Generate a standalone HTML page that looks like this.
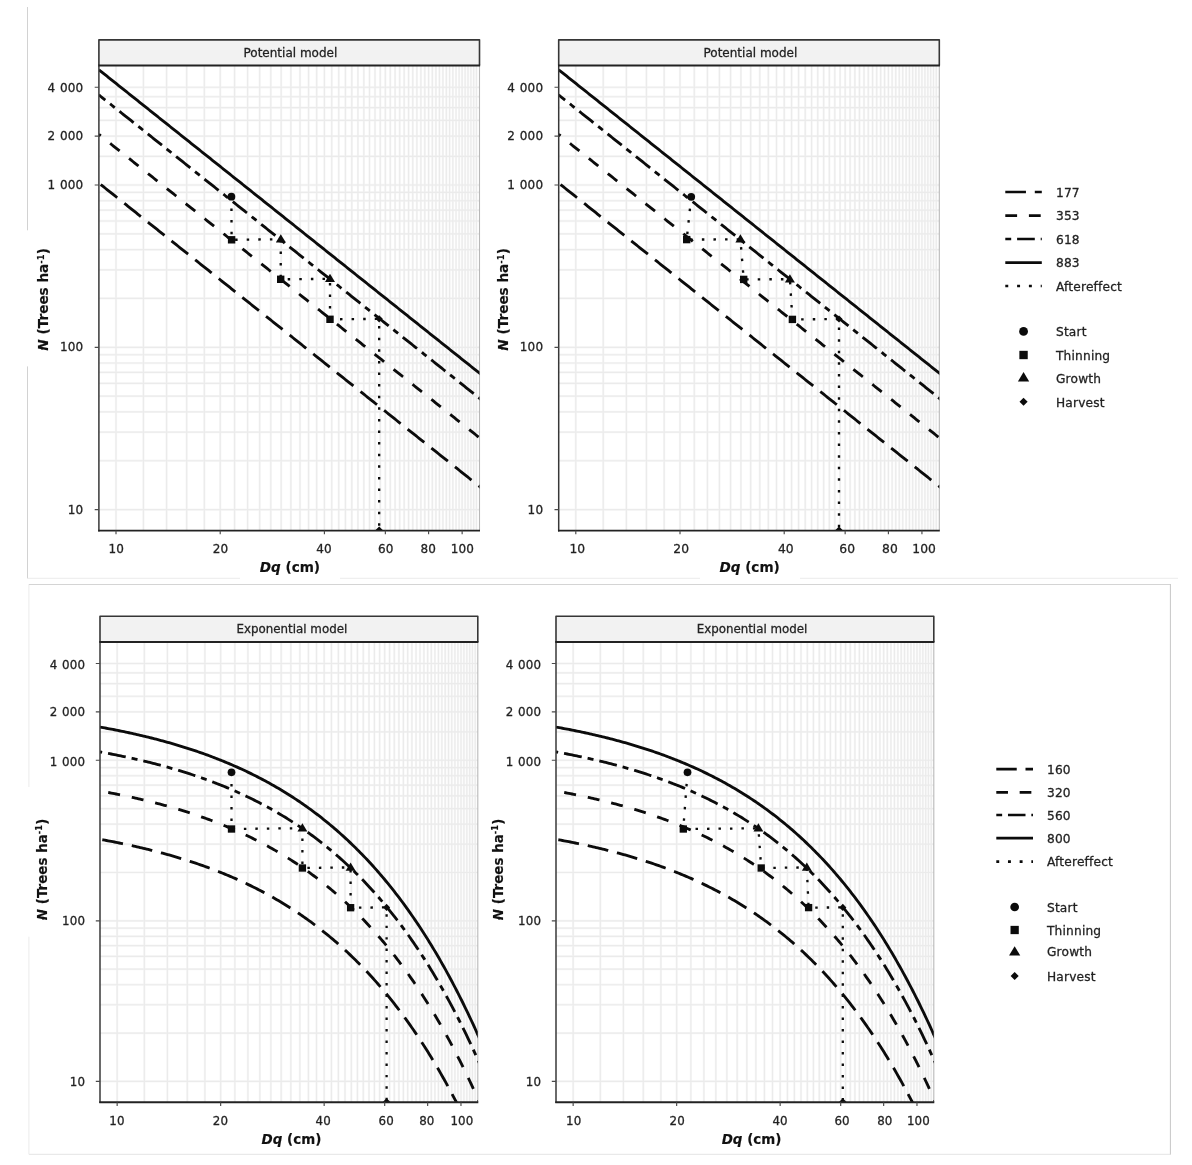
<!DOCTYPE html>
<html lang="en"><head><meta charset="utf-8"><title>Stand density management diagrams</title>
<style>html,body{margin:0;padding:0;background:#fff}svg{display:block}text{stroke:#222;stroke-width:.28px}text.b{stroke:#111;stroke-width:.15px}</style></head>
<body>
<svg width="1192" height="1165" viewBox="0 0 1192 1165" font-family='"DejaVu Sans", "Liberation Sans", sans-serif'>
<rect width="1192" height="1165" fill="#fff"/>
<g stroke-width="1" fill="none">
<path d="M27.5 7V230.3M27.5 366.4V578.4" stroke="#cdcdcd" stroke-width="0.9"/>
<path d="M27.5 578.3H240M340 578.3H700M800 578.3H1178" stroke="#ececec"/>
<path d="M28.9 787V584.4" stroke="#ebebeb"/><path d="M28.9 584.5H1170.9" stroke="#d4d4d4"/><path d="M1170.4 584.2V1154.7" stroke="#c6c6c6"/><path d="M1170.4 1154.3H28.9" stroke="#e4e4e4"/><path d="M28.9 1154.3V936.7" stroke="#ebebeb"/>
</g>
<g id="p1">
<clipPath id="clipp1"><rect x="98.90" y="65.50" width="380.60" height="465.10"/></clipPath>
<rect x="98.90" y="65.50" width="380.60" height="465.10" fill="#fff"/>
<g clip-path="url(#clipp1)" fill="none"><defs><path id="gridp1" d="M116.00 65.50V530.60M143.41 65.50V530.60M166.58 65.50V530.60M186.66 65.50V530.60M204.36 65.50V530.60M220.20 65.50V530.60M234.53 65.50V530.60M247.61 65.50V530.60M259.64 65.50V530.60M270.78 65.50V530.60M281.15 65.50V530.60M290.86 65.50V530.60M299.97 65.50V530.60M308.56 65.50V530.60M316.69 65.50V530.60M324.40 65.50V530.60M331.73 65.50V530.60M338.73 65.50V530.60M345.41 65.50V530.60M351.81 65.50V530.60M357.94 65.50V530.60M363.84 65.50V530.60M369.51 65.50V530.60M374.98 65.50V530.60M380.26 65.50V530.60M385.35 65.50V530.60M390.28 65.50V530.60M395.06 65.50V530.60M399.68 65.50V530.60M404.17 65.50V530.60M408.53 65.50V530.60M412.76 65.50V530.60M416.88 65.50V530.60M420.89 65.50V530.60M424.79 65.50V530.60M428.60 65.50V530.60M432.31 65.50V530.60M435.93 65.50V530.60M439.47 65.50V530.60M442.93 65.50V530.60M446.31 65.50V530.60M449.61 65.50V530.60M452.84 65.50V530.60M456.01 65.50V530.60M459.11 65.50V530.60M462.14 65.50V530.60M465.12 65.50V530.60M468.04 65.50V530.60M470.90 65.50V530.60M473.71 65.50V530.60M476.47 65.50V530.60M98.90 509.60H479.50M98.90 460.74H479.50M98.90 432.16H479.50M98.90 411.89H479.50M98.90 396.16H479.50M98.90 383.31H479.50M98.90 372.44H479.50M98.90 363.03H479.50M98.90 354.73H479.50M98.90 347.30H479.50M98.90 298.44H479.50M98.90 269.86H479.50M98.90 249.59H479.50M98.90 233.86H479.50M98.90 221.01H479.50M98.90 210.14H479.50M98.90 200.73H479.50M98.90 192.43H479.50M98.90 185.00H479.50M98.90 156.42H479.50M98.90 136.14H479.50M98.90 120.41H479.50M98.90 107.56H479.50M98.90 96.70H479.50M98.90 87.29H479.50"/></defs><use href="#gridp1" stroke="#f7f7f7" stroke-width="2.3"/><use href="#gridp1" stroke="#ebebeb" stroke-width="1.15"/></g>
<path d="M479.50 65.50V530.60" stroke="#b8b8b8" stroke-width="1.1"/>
<g clip-path="url(#clipp1)" fill="none" stroke="#0b0b0b">
<polyline points="98.90,69.80 100.52,71.09 102.13,72.38 103.75,73.67 105.37,74.96 106.99,76.24 108.60,77.53 110.22,78.82 111.84,80.11 113.45,81.40 115.07,82.69 116.69,83.98 118.31,85.27 119.92,86.56 121.54,87.84 123.16,89.13 124.78,90.42 126.39,91.71 128.01,93.00 129.63,94.29 131.24,95.58 132.86,96.87 134.48,98.16 136.10,99.44 137.71,100.73 139.33,102.02 140.95,103.31 142.56,104.60 144.18,105.89 145.80,107.18 147.42,108.47 149.03,109.76 150.65,111.04 152.27,112.33 153.88,113.62 155.50,114.91 157.12,116.20 158.74,117.49 160.35,118.78 161.97,120.07 163.59,121.36 165.20,122.65 166.82,123.93 168.44,125.22 170.06,126.51 171.67,127.80 173.29,129.09 174.91,130.38 176.53,131.67 178.14,132.96 179.76,134.25 181.38,135.53 182.99,136.82 184.61,138.11 186.23,139.40 187.85,140.69 189.46,141.98 191.08,143.27 192.70,144.56 194.31,145.85 195.93,147.13 197.55,148.42 199.17,149.71 200.78,151.00 202.40,152.29 204.02,153.58 205.63,154.87 207.25,156.16 208.87,157.45 210.49,158.73 212.10,160.02 213.72,161.31 215.34,162.60 216.96,163.89 218.57,165.18 220.19,166.47 221.81,167.76 223.42,169.05 225.04,170.33 226.66,171.62 228.28,172.91 229.89,174.20 231.51,175.49 233.13,176.78 234.74,178.07 236.36,179.36 237.98,180.65 239.60,181.93 241.21,183.22 242.83,184.51 244.45,185.80 246.06,187.09 247.68,188.38 249.30,189.67 250.92,190.96 252.53,192.25 254.15,193.53 255.77,194.82 257.38,196.11 259.00,197.40 260.62,198.69 262.24,199.98 263.85,201.27 265.47,202.56 267.09,203.85 268.71,205.13 270.32,206.42 271.94,207.71 273.56,209.00 275.17,210.29 276.79,211.58 278.41,212.87 280.03,214.16 281.64,215.45 283.26,216.73 284.88,218.02 286.49,219.31 288.11,220.60 289.73,221.89 291.35,223.18 292.96,224.47 294.58,225.76 296.20,227.05 297.81,228.34 299.43,229.62 301.05,230.91 302.67,232.20 304.28,233.49 305.90,234.78 307.52,236.07 309.14,237.36 310.75,238.65 312.37,239.94 313.99,241.22 315.60,242.51 317.22,243.80 318.84,245.09 320.46,246.38 322.07,247.67 323.69,248.96 325.31,250.25 326.92,251.54 328.54,252.82 330.16,254.11 331.78,255.40 333.39,256.69 335.01,257.98 336.63,259.27 338.24,260.56 339.86,261.85 341.48,263.14 343.10,264.42 344.71,265.71 346.33,267.00 347.95,268.29 349.57,269.58 351.18,270.87 352.80,272.16 354.42,273.45 356.03,274.74 357.65,276.02 359.27,277.31 360.89,278.60 362.50,279.89 364.12,281.18 365.74,282.47 367.35,283.76 368.97,285.05 370.59,286.34 372.21,287.62 373.82,288.91 375.44,290.20 377.06,291.49 378.67,292.78 380.29,294.07 381.91,295.36 383.53,296.65 385.14,297.94 386.76,299.22 388.38,300.51 389.99,301.80 391.61,303.09 393.23,304.38 394.85,305.67 396.46,306.96 398.08,308.25 399.70,309.54 401.32,310.82 402.93,312.11 404.55,313.40 406.17,314.69 407.78,315.98 409.40,317.27 411.02,318.56 412.64,319.85 414.25,321.14 415.87,322.43 417.49,323.71 419.10,325.00 420.72,326.29 422.34,327.58 423.96,328.87 425.57,330.16 427.19,331.45 428.81,332.74 430.42,334.03 432.04,335.31 433.66,336.60 435.28,337.89 436.89,339.18 438.51,340.47 440.13,341.76 441.75,343.05 443.36,344.34 444.98,345.63 446.60,346.91 448.21,348.20 449.83,349.49 451.45,350.78 453.07,352.07 454.68,353.36 456.30,354.65 457.92,355.94 459.53,357.23 461.15,358.51 462.77,359.80 464.39,361.09 466.00,362.38 467.62,363.67 469.24,364.96 470.85,366.25 472.47,367.54 474.09,368.83 475.71,370.11 477.32,371.40 478.94,372.69 480.56,373.98 482.17,375.27 483.79,376.56 485.41,377.85 487.03,379.14" stroke-width="2.85"/>
<polyline points="98.90,94.95 100.52,96.24 102.13,97.53 103.75,98.82 105.37,100.11 106.99,101.40 108.60,102.69 110.22,103.97 111.84,105.26 113.45,106.55 115.07,107.84 116.69,109.13 118.31,110.42 119.92,111.71 121.54,113.00 123.16,114.29 124.78,115.57 126.39,116.86 128.01,118.15 129.63,119.44 131.24,120.73 132.86,122.02 134.48,123.31 136.10,124.60 137.71,125.89 139.33,127.17 140.95,128.46 142.56,129.75 144.18,131.04 145.80,132.33 147.42,133.62 149.03,134.91 150.65,136.20 152.27,137.49 153.88,138.77 155.50,140.06 157.12,141.35 158.74,142.64 160.35,143.93 161.97,145.22 163.59,146.51 165.20,147.80 166.82,149.09 168.44,150.37 170.06,151.66 171.67,152.95 173.29,154.24 174.91,155.53 176.53,156.82 178.14,158.11 179.76,159.40 181.38,160.69 182.99,161.97 184.61,163.26 186.23,164.55 187.85,165.84 189.46,167.13 191.08,168.42 192.70,169.71 194.31,171.00 195.93,172.29 197.55,173.58 199.17,174.86 200.78,176.15 202.40,177.44 204.02,178.73 205.63,180.02 207.25,181.31 208.87,182.60 210.49,183.89 212.10,185.18 213.72,186.46 215.34,187.75 216.96,189.04 218.57,190.33 220.19,191.62 221.81,192.91 223.42,194.20 225.04,195.49 226.66,196.78 228.28,198.06 229.89,199.35 231.51,200.64 233.13,201.93 234.74,203.22 236.36,204.51 237.98,205.80 239.60,207.09 241.21,208.38 242.83,209.66 244.45,210.95 246.06,212.24 247.68,213.53 249.30,214.82 250.92,216.11 252.53,217.40 254.15,218.69 255.77,219.98 257.38,221.26 259.00,222.55 260.62,223.84 262.24,225.13 263.85,226.42 265.47,227.71 267.09,229.00 268.71,230.29 270.32,231.58 271.94,232.86 273.56,234.15 275.17,235.44 276.79,236.73 278.41,238.02 280.03,239.31 281.64,240.60 283.26,241.89 284.88,243.18 286.49,244.46 288.11,245.75 289.73,247.04 291.35,248.33 292.96,249.62 294.58,250.91 296.20,252.20 297.81,253.49 299.43,254.78 301.05,256.06 302.67,257.35 304.28,258.64 305.90,259.93 307.52,261.22 309.14,262.51 310.75,263.80 312.37,265.09 313.99,266.38 315.60,267.67 317.22,268.95 318.84,270.24 320.46,271.53 322.07,272.82 323.69,274.11 325.31,275.40 326.92,276.69 328.54,277.98 330.16,279.27 331.78,280.55 333.39,281.84 335.01,283.13 336.63,284.42 338.24,285.71 339.86,287.00 341.48,288.29 343.10,289.58 344.71,290.87 346.33,292.15 347.95,293.44 349.57,294.73 351.18,296.02 352.80,297.31 354.42,298.60 356.03,299.89 357.65,301.18 359.27,302.47 360.89,303.75 362.50,305.04 364.12,306.33 365.74,307.62 367.35,308.91 368.97,310.20 370.59,311.49 372.21,312.78 373.82,314.07 375.44,315.35 377.06,316.64 378.67,317.93 380.29,319.22 381.91,320.51 383.53,321.80 385.14,323.09 386.76,324.38 388.38,325.67 389.99,326.95 391.61,328.24 393.23,329.53 394.85,330.82 396.46,332.11 398.08,333.40 399.70,334.69 401.32,335.98 402.93,337.27 404.55,338.55 406.17,339.84 407.78,341.13 409.40,342.42 411.02,343.71 412.64,345.00 414.25,346.29 415.87,347.58 417.49,348.87 419.10,350.15 420.72,351.44 422.34,352.73 423.96,354.02 425.57,355.31 427.19,356.60 428.81,357.89 430.42,359.18 432.04,360.47 433.66,361.75 435.28,363.04 436.89,364.33 438.51,365.62 440.13,366.91 441.75,368.20 443.36,369.49 444.98,370.78 446.60,372.07 448.21,373.36 449.83,374.64 451.45,375.93 453.07,377.22 454.68,378.51 456.30,379.80 457.92,381.09 459.53,382.38 461.15,383.67 462.77,384.96 464.39,386.24 466.00,387.53 467.62,388.82 469.24,390.11 470.85,391.40 472.47,392.69 474.09,393.98 475.71,395.27 477.32,396.56 478.94,397.84 480.56,399.13 482.17,400.42 483.79,401.71 485.41,403.00 487.03,404.29" stroke-width="2.85" stroke-dasharray="6.04 6.04 18.12 6.04" stroke-dashoffset="22.03"/>
<polyline points="98.90,134.43 100.52,135.71 102.13,137.00 103.75,138.29 105.37,139.58 106.99,140.87 108.60,142.16 110.22,143.45 111.84,144.74 113.45,146.03 115.07,147.31 116.69,148.60 118.31,149.89 119.92,151.18 121.54,152.47 123.16,153.76 124.78,155.05 126.39,156.34 128.01,157.63 129.63,158.91 131.24,160.20 132.86,161.49 134.48,162.78 136.10,164.07 137.71,165.36 139.33,166.65 140.95,167.94 142.56,169.23 144.18,170.51 145.80,171.80 147.42,173.09 149.03,174.38 150.65,175.67 152.27,176.96 153.88,178.25 155.50,179.54 157.12,180.83 158.74,182.12 160.35,183.40 161.97,184.69 163.59,185.98 165.20,187.27 166.82,188.56 168.44,189.85 170.06,191.14 171.67,192.43 173.29,193.72 174.91,195.00 176.53,196.29 178.14,197.58 179.76,198.87 181.38,200.16 182.99,201.45 184.61,202.74 186.23,204.03 187.85,205.32 189.46,206.60 191.08,207.89 192.70,209.18 194.31,210.47 195.93,211.76 197.55,213.05 199.17,214.34 200.78,215.63 202.40,216.92 204.02,218.20 205.63,219.49 207.25,220.78 208.87,222.07 210.49,223.36 212.10,224.65 213.72,225.94 215.34,227.23 216.96,228.52 218.57,229.80 220.19,231.09 221.81,232.38 223.42,233.67 225.04,234.96 226.66,236.25 228.28,237.54 229.89,238.83 231.51,240.12 233.13,241.40 234.74,242.69 236.36,243.98 237.98,245.27 239.60,246.56 241.21,247.85 242.83,249.14 244.45,250.43 246.06,251.72 247.68,253.00 249.30,254.29 250.92,255.58 252.53,256.87 254.15,258.16 255.77,259.45 257.38,260.74 259.00,262.03 260.62,263.32 262.24,264.60 263.85,265.89 265.47,267.18 267.09,268.47 268.71,269.76 270.32,271.05 271.94,272.34 273.56,273.63 275.17,274.92 276.79,276.20 278.41,277.49 280.03,278.78 281.64,280.07 283.26,281.36 284.88,282.65 286.49,283.94 288.11,285.23 289.73,286.52 291.35,287.81 292.96,289.09 294.58,290.38 296.20,291.67 297.81,292.96 299.43,294.25 301.05,295.54 302.67,296.83 304.28,298.12 305.90,299.41 307.52,300.69 309.14,301.98 310.75,303.27 312.37,304.56 313.99,305.85 315.60,307.14 317.22,308.43 318.84,309.72 320.46,311.01 322.07,312.29 323.69,313.58 325.31,314.87 326.92,316.16 328.54,317.45 330.16,318.74 331.78,320.03 333.39,321.32 335.01,322.61 336.63,323.89 338.24,325.18 339.86,326.47 341.48,327.76 343.10,329.05 344.71,330.34 346.33,331.63 347.95,332.92 349.57,334.21 351.18,335.49 352.80,336.78 354.42,338.07 356.03,339.36 357.65,340.65 359.27,341.94 360.89,343.23 362.50,344.52 364.12,345.81 365.74,347.09 367.35,348.38 368.97,349.67 370.59,350.96 372.21,352.25 373.82,353.54 375.44,354.83 377.06,356.12 378.67,357.41 380.29,358.69 381.91,359.98 383.53,361.27 385.14,362.56 386.76,363.85 388.38,365.14 389.99,366.43 391.61,367.72 393.23,369.01 394.85,370.29 396.46,371.58 398.08,372.87 399.70,374.16 401.32,375.45 402.93,376.74 404.55,378.03 406.17,379.32 407.78,380.61 409.40,381.90 411.02,383.18 412.64,384.47 414.25,385.76 415.87,387.05 417.49,388.34 419.10,389.63 420.72,390.92 422.34,392.21 423.96,393.50 425.57,394.78 427.19,396.07 428.81,397.36 430.42,398.65 432.04,399.94 433.66,401.23 435.28,402.52 436.89,403.81 438.51,405.10 440.13,406.38 441.75,407.67 443.36,408.96 444.98,410.25 446.60,411.54 448.21,412.83 449.83,414.12 451.45,415.41 453.07,416.70 454.68,417.98 456.30,419.27 457.92,420.56 459.53,421.85 461.15,423.14 462.77,424.43 464.39,425.72 466.00,427.01 467.62,428.30 469.24,429.58 470.85,430.87 472.47,432.16 474.09,433.45 475.71,434.74 477.32,436.03 478.94,437.32 480.56,438.61 482.17,439.90 483.79,441.18 485.41,442.47 487.03,443.76" stroke-width="2.85" stroke-dasharray="12.08 12.08" stroke-dashoffset="9.75"/>
<polyline points="98.90,183.08 100.52,184.37 102.13,185.66 103.75,186.95 105.37,188.24 106.99,189.53 108.60,190.82 110.22,192.11 111.84,193.39 113.45,194.68 115.07,195.97 116.69,197.26 118.31,198.55 119.92,199.84 121.54,201.13 123.16,202.42 124.78,203.71 126.39,204.99 128.01,206.28 129.63,207.57 131.24,208.86 132.86,210.15 134.48,211.44 136.10,212.73 137.71,214.02 139.33,215.31 140.95,216.59 142.56,217.88 144.18,219.17 145.80,220.46 147.42,221.75 149.03,223.04 150.65,224.33 152.27,225.62 153.88,226.91 155.50,228.19 157.12,229.48 158.74,230.77 160.35,232.06 161.97,233.35 163.59,234.64 165.20,235.93 166.82,237.22 168.44,238.51 170.06,239.80 171.67,241.08 173.29,242.37 174.91,243.66 176.53,244.95 178.14,246.24 179.76,247.53 181.38,248.82 182.99,250.11 184.61,251.40 186.23,252.68 187.85,253.97 189.46,255.26 191.08,256.55 192.70,257.84 194.31,259.13 195.93,260.42 197.55,261.71 199.17,263.00 200.78,264.28 202.40,265.57 204.02,266.86 205.63,268.15 207.25,269.44 208.87,270.73 210.49,272.02 212.10,273.31 213.72,274.60 215.34,275.88 216.96,277.17 218.57,278.46 220.19,279.75 221.81,281.04 223.42,282.33 225.04,283.62 226.66,284.91 228.28,286.20 229.89,287.48 231.51,288.77 233.13,290.06 234.74,291.35 236.36,292.64 237.98,293.93 239.60,295.22 241.21,296.51 242.83,297.80 244.45,299.08 246.06,300.37 247.68,301.66 249.30,302.95 250.92,304.24 252.53,305.53 254.15,306.82 255.77,308.11 257.38,309.40 259.00,310.68 260.62,311.97 262.24,313.26 263.85,314.55 265.47,315.84 267.09,317.13 268.71,318.42 270.32,319.71 271.94,321.00 273.56,322.28 275.17,323.57 276.79,324.86 278.41,326.15 280.03,327.44 281.64,328.73 283.26,330.02 284.88,331.31 286.49,332.60 288.11,333.89 289.73,335.17 291.35,336.46 292.96,337.75 294.58,339.04 296.20,340.33 297.81,341.62 299.43,342.91 301.05,344.20 302.67,345.49 304.28,346.77 305.90,348.06 307.52,349.35 309.14,350.64 310.75,351.93 312.37,353.22 313.99,354.51 315.60,355.80 317.22,357.09 318.84,358.37 320.46,359.66 322.07,360.95 323.69,362.24 325.31,363.53 326.92,364.82 328.54,366.11 330.16,367.40 331.78,368.69 333.39,369.97 335.01,371.26 336.63,372.55 338.24,373.84 339.86,375.13 341.48,376.42 343.10,377.71 344.71,379.00 346.33,380.29 347.95,381.57 349.57,382.86 351.18,384.15 352.80,385.44 354.42,386.73 356.03,388.02 357.65,389.31 359.27,390.60 360.89,391.89 362.50,393.17 364.12,394.46 365.74,395.75 367.35,397.04 368.97,398.33 370.59,399.62 372.21,400.91 373.82,402.20 375.44,403.49 377.06,404.77 378.67,406.06 380.29,407.35 381.91,408.64 383.53,409.93 385.14,411.22 386.76,412.51 388.38,413.80 389.99,415.09 391.61,416.37 393.23,417.66 394.85,418.95 396.46,420.24 398.08,421.53 399.70,422.82 401.32,424.11 402.93,425.40 404.55,426.69 406.17,427.98 407.78,429.26 409.40,430.55 411.02,431.84 412.64,433.13 414.25,434.42 415.87,435.71 417.49,437.00 419.10,438.29 420.72,439.58 422.34,440.86 423.96,442.15 425.57,443.44 427.19,444.73 428.81,446.02 430.42,447.31 432.04,448.60 433.66,449.89 435.28,451.18 436.89,452.46 438.51,453.75 440.13,455.04 441.75,456.33 443.36,457.62 444.98,458.91 446.60,460.20 448.21,461.49 449.83,462.78 451.45,464.06 453.07,465.35 454.68,466.64 456.30,467.93 457.92,469.22 459.53,470.51 461.15,471.80 462.77,473.09 464.39,474.38 466.00,475.66 467.62,476.95 469.24,478.24 470.85,479.53 472.47,480.82 474.09,482.11 475.71,483.40 477.32,484.69 478.94,485.98 480.56,487.26 482.17,488.55 483.79,489.84 485.41,491.13 487.03,492.42" stroke-width="2.85" stroke-dasharray="21.14 9.06" stroke-dashoffset="27.90"/>
<path d="M231.40 196.70L231.60 239.80L280.80 239.20L280.70 279.30L330.00 278.80L330.00 319.30L379.15 318.85L379.15 530.60" stroke-width="2.35" stroke-dasharray="2.50 9.10" stroke-dashoffset="-0.20"/>
</g>
<g clip-path="url(#clipp1)" fill="#0b0b0b" stroke="none">
<circle cx="231.40" cy="196.70" r="3.90"/>
<rect x="227.90" y="236.10" width="7.40" height="7.40"/>
<path d="M280.80 234.20L285.80 242.50H275.80Z"/>
<rect x="277.00" y="275.60" width="7.40" height="7.40"/>
<path d="M330.00 273.80L335.00 282.10H325.00Z"/>
<rect x="326.30" y="315.60" width="7.40" height="7.40"/>
<path d="M379.15 315.25L382.75 318.85L379.15 322.45L375.55 318.85Z"/>
<path d="M379.15 526.50L382.75 530.10L379.15 533.70L375.55 530.10Z"/>
</g>
<path d="M98.90 65.50V531.50" stroke="#383838" stroke-width="1.5"/>
<path d="M98.20 530.60H480.00" stroke="#222" stroke-width="1.9"/>
<rect x="98.90" y="39.85" width="380.60" height="25.65" fill="#f2f2f2"/>
<path d="M98.90 65.50V39.85H479.50V65.50" fill="none" stroke="#363636" stroke-width="1.6" stroke-linejoin="round"/>
<path d="M98.20 65.50H480.10" stroke="#222" stroke-width="2"/>
<text x="290.40" y="57.45" font-size="12.00" text-anchor="middle" fill="#222">Potential model</text>
<path d="M94.70 87.29H98.90M94.70 136.14H98.90M94.70 185.00H98.90M94.70 347.30H98.90M94.70 509.60H98.90M116.00 530.60v3.7M220.20 530.60v3.7M324.40 530.60v3.7M385.35 530.60v3.7M428.60 530.60v3.7M462.14 530.60v3.7" stroke="#4a4a4a" stroke-width="1.15" fill="none"/>
<text x="83.45" y="92.39" font-size="12.00" text-anchor="end" fill="#222" word-spacing="0.6" letter-spacing="0.2">4 000</text>
<text x="83.45" y="140.04" font-size="12.00" text-anchor="end" fill="#222" word-spacing="0.6" letter-spacing="0.2">2 000</text>
<text x="83.45" y="189.40" font-size="12.00" text-anchor="end" fill="#222" word-spacing="0.6" letter-spacing="0.2">1 000</text>
<text x="83.45" y="351.40" font-size="12.00" text-anchor="end" fill="#222" word-spacing="0.6" letter-spacing="0.2">100</text>
<text x="83.45" y="513.90" font-size="12.00" text-anchor="end" fill="#222" word-spacing="0.6" letter-spacing="0.2">10</text>
<text x="116.35" y="553.00" font-size="12.00" text-anchor="middle" fill="#222" letter-spacing="0.1">10</text>
<text x="220.45" y="553.00" font-size="12.00" text-anchor="middle" fill="#222" letter-spacing="0.1">20</text>
<text x="323.95" y="553.00" font-size="12.00" text-anchor="middle" fill="#222" letter-spacing="0.1">40</text>
<text x="385.75" y="553.00" font-size="12.00" text-anchor="middle" fill="#222" letter-spacing="0.1">60</text>
<text x="428.35" y="553.00" font-size="12.00" text-anchor="middle" fill="#222" letter-spacing="0.1">80</text>
<text x="462.45" y="553.00" font-size="12.00" text-anchor="middle" fill="#222" letter-spacing="0.1">100</text>
<text x="289.90" y="572.40" font-size="13.60" font-weight="bold" class="b" text-anchor="middle" fill="#111"><tspan font-style="italic">Dq</tspan> (cm)</text>
<text transform="translate(48.40,299.40) rotate(-90)" font-size="13.60" font-weight="bold" class="b" text-anchor="middle" fill="#111"><tspan font-style="italic">N</tspan> (Trees ha<tspan font-size="8.43" dy="-4.60">-1</tspan><tspan dy="4.60">)</tspan></text>
</g>
<g id="p2">
<clipPath id="clipp2"><rect x="558.70" y="65.50" width="380.60" height="465.10"/></clipPath>
<rect x="558.70" y="65.50" width="380.60" height="465.10" fill="#fff"/>
<g clip-path="url(#clipp2)" fill="none"><defs><path id="gridp2" d="M575.80 65.50V530.60M603.21 65.50V530.60M626.38 65.50V530.60M646.46 65.50V530.60M664.16 65.50V530.60M680.00 65.50V530.60M694.33 65.50V530.60M707.41 65.50V530.60M719.44 65.50V530.60M730.58 65.50V530.60M740.95 65.50V530.60M750.66 65.50V530.60M759.77 65.50V530.60M768.36 65.50V530.60M776.49 65.50V530.60M784.20 65.50V530.60M791.53 65.50V530.60M798.53 65.50V530.60M805.21 65.50V530.60M811.61 65.50V530.60M817.74 65.50V530.60M823.64 65.50V530.60M829.31 65.50V530.60M834.78 65.50V530.60M840.06 65.50V530.60M845.15 65.50V530.60M850.08 65.50V530.60M854.86 65.50V530.60M859.48 65.50V530.60M863.97 65.50V530.60M868.33 65.50V530.60M872.56 65.50V530.60M876.68 65.50V530.60M880.69 65.50V530.60M884.59 65.50V530.60M888.40 65.50V530.60M892.11 65.50V530.60M895.73 65.50V530.60M899.27 65.50V530.60M902.73 65.50V530.60M906.11 65.50V530.60M909.41 65.50V530.60M912.64 65.50V530.60M915.81 65.50V530.60M918.91 65.50V530.60M921.94 65.50V530.60M924.92 65.50V530.60M927.84 65.50V530.60M930.70 65.50V530.60M933.51 65.50V530.60M936.27 65.50V530.60M558.70 509.60H939.30M558.70 460.74H939.30M558.70 432.16H939.30M558.70 411.89H939.30M558.70 396.16H939.30M558.70 383.31H939.30M558.70 372.44H939.30M558.70 363.03H939.30M558.70 354.73H939.30M558.70 347.30H939.30M558.70 298.44H939.30M558.70 269.86H939.30M558.70 249.59H939.30M558.70 233.86H939.30M558.70 221.01H939.30M558.70 210.14H939.30M558.70 200.73H939.30M558.70 192.43H939.30M558.70 185.00H939.30M558.70 156.42H939.30M558.70 136.14H939.30M558.70 120.41H939.30M558.70 107.56H939.30M558.70 96.70H939.30M558.70 87.29H939.30"/></defs><use href="#gridp2" stroke="#f7f7f7" stroke-width="2.3"/><use href="#gridp2" stroke="#ebebeb" stroke-width="1.15"/></g>
<path d="M939.30 65.50V530.60" stroke="#b8b8b8" stroke-width="1.1"/>
<g clip-path="url(#clipp2)" fill="none" stroke="#0b0b0b">
<polyline points="558.70,69.80 560.32,71.09 561.93,72.38 563.55,73.67 565.17,74.96 566.79,76.24 568.40,77.53 570.02,78.82 571.64,80.11 573.25,81.40 574.87,82.69 576.49,83.98 578.11,85.27 579.72,86.56 581.34,87.84 582.96,89.13 584.58,90.42 586.19,91.71 587.81,93.00 589.43,94.29 591.04,95.58 592.66,96.87 594.28,98.16 595.90,99.44 597.51,100.73 599.13,102.02 600.75,103.31 602.36,104.60 603.98,105.89 605.60,107.18 607.22,108.47 608.83,109.76 610.45,111.04 612.07,112.33 613.68,113.62 615.30,114.91 616.92,116.20 618.54,117.49 620.15,118.78 621.77,120.07 623.39,121.36 625.00,122.65 626.62,123.93 628.24,125.22 629.86,126.51 631.47,127.80 633.09,129.09 634.71,130.38 636.33,131.67 637.94,132.96 639.56,134.25 641.18,135.53 642.79,136.82 644.41,138.11 646.03,139.40 647.65,140.69 649.26,141.98 650.88,143.27 652.50,144.56 654.11,145.85 655.73,147.13 657.35,148.42 658.97,149.71 660.58,151.00 662.20,152.29 663.82,153.58 665.43,154.87 667.05,156.16 668.67,157.45 670.29,158.73 671.90,160.02 673.52,161.31 675.14,162.60 676.76,163.89 678.37,165.18 679.99,166.47 681.61,167.76 683.22,169.05 684.84,170.33 686.46,171.62 688.08,172.91 689.69,174.20 691.31,175.49 692.93,176.78 694.54,178.07 696.16,179.36 697.78,180.65 699.40,181.93 701.01,183.22 702.63,184.51 704.25,185.80 705.86,187.09 707.48,188.38 709.10,189.67 710.72,190.96 712.33,192.25 713.95,193.53 715.57,194.82 717.18,196.11 718.80,197.40 720.42,198.69 722.04,199.98 723.65,201.27 725.27,202.56 726.89,203.85 728.51,205.13 730.12,206.42 731.74,207.71 733.36,209.00 734.97,210.29 736.59,211.58 738.21,212.87 739.83,214.16 741.44,215.45 743.06,216.73 744.68,218.02 746.29,219.31 747.91,220.60 749.53,221.89 751.15,223.18 752.76,224.47 754.38,225.76 756.00,227.05 757.61,228.34 759.23,229.62 760.85,230.91 762.47,232.20 764.08,233.49 765.70,234.78 767.32,236.07 768.94,237.36 770.55,238.65 772.17,239.94 773.79,241.22 775.40,242.51 777.02,243.80 778.64,245.09 780.26,246.38 781.87,247.67 783.49,248.96 785.11,250.25 786.72,251.54 788.34,252.82 789.96,254.11 791.58,255.40 793.19,256.69 794.81,257.98 796.43,259.27 798.04,260.56 799.66,261.85 801.28,263.14 802.90,264.42 804.51,265.71 806.13,267.00 807.75,268.29 809.37,269.58 810.98,270.87 812.60,272.16 814.22,273.45 815.83,274.74 817.45,276.02 819.07,277.31 820.69,278.60 822.30,279.89 823.92,281.18 825.54,282.47 827.15,283.76 828.77,285.05 830.39,286.34 832.01,287.62 833.62,288.91 835.24,290.20 836.86,291.49 838.47,292.78 840.09,294.07 841.71,295.36 843.33,296.65 844.94,297.94 846.56,299.22 848.18,300.51 849.79,301.80 851.41,303.09 853.03,304.38 854.65,305.67 856.26,306.96 857.88,308.25 859.50,309.54 861.12,310.82 862.73,312.11 864.35,313.40 865.97,314.69 867.58,315.98 869.20,317.27 870.82,318.56 872.44,319.85 874.05,321.14 875.67,322.43 877.29,323.71 878.90,325.00 880.52,326.29 882.14,327.58 883.76,328.87 885.37,330.16 886.99,331.45 888.61,332.74 890.22,334.03 891.84,335.31 893.46,336.60 895.08,337.89 896.69,339.18 898.31,340.47 899.93,341.76 901.55,343.05 903.16,344.34 904.78,345.63 906.40,346.91 908.01,348.20 909.63,349.49 911.25,350.78 912.87,352.07 914.48,353.36 916.10,354.65 917.72,355.94 919.33,357.23 920.95,358.51 922.57,359.80 924.19,361.09 925.80,362.38 927.42,363.67 929.04,364.96 930.65,366.25 932.27,367.54 933.89,368.83 935.51,370.11 937.12,371.40 938.74,372.69 940.36,373.98 941.97,375.27 943.59,376.56 945.21,377.85 946.83,379.14" stroke-width="2.85"/>
<polyline points="558.70,94.95 560.32,96.24 561.93,97.53 563.55,98.82 565.17,100.11 566.79,101.40 568.40,102.69 570.02,103.97 571.64,105.26 573.25,106.55 574.87,107.84 576.49,109.13 578.11,110.42 579.72,111.71 581.34,113.00 582.96,114.29 584.58,115.57 586.19,116.86 587.81,118.15 589.43,119.44 591.04,120.73 592.66,122.02 594.28,123.31 595.90,124.60 597.51,125.89 599.13,127.17 600.75,128.46 602.36,129.75 603.98,131.04 605.60,132.33 607.22,133.62 608.83,134.91 610.45,136.20 612.07,137.49 613.68,138.77 615.30,140.06 616.92,141.35 618.54,142.64 620.15,143.93 621.77,145.22 623.39,146.51 625.00,147.80 626.62,149.09 628.24,150.37 629.86,151.66 631.47,152.95 633.09,154.24 634.71,155.53 636.33,156.82 637.94,158.11 639.56,159.40 641.18,160.69 642.79,161.97 644.41,163.26 646.03,164.55 647.65,165.84 649.26,167.13 650.88,168.42 652.50,169.71 654.11,171.00 655.73,172.29 657.35,173.58 658.97,174.86 660.58,176.15 662.20,177.44 663.82,178.73 665.43,180.02 667.05,181.31 668.67,182.60 670.29,183.89 671.90,185.18 673.52,186.46 675.14,187.75 676.76,189.04 678.37,190.33 679.99,191.62 681.61,192.91 683.22,194.20 684.84,195.49 686.46,196.78 688.08,198.06 689.69,199.35 691.31,200.64 692.93,201.93 694.54,203.22 696.16,204.51 697.78,205.80 699.40,207.09 701.01,208.38 702.63,209.66 704.25,210.95 705.86,212.24 707.48,213.53 709.10,214.82 710.72,216.11 712.33,217.40 713.95,218.69 715.57,219.98 717.18,221.26 718.80,222.55 720.42,223.84 722.04,225.13 723.65,226.42 725.27,227.71 726.89,229.00 728.51,230.29 730.12,231.58 731.74,232.86 733.36,234.15 734.97,235.44 736.59,236.73 738.21,238.02 739.83,239.31 741.44,240.60 743.06,241.89 744.68,243.18 746.29,244.46 747.91,245.75 749.53,247.04 751.15,248.33 752.76,249.62 754.38,250.91 756.00,252.20 757.61,253.49 759.23,254.78 760.85,256.06 762.47,257.35 764.08,258.64 765.70,259.93 767.32,261.22 768.94,262.51 770.55,263.80 772.17,265.09 773.79,266.38 775.40,267.67 777.02,268.95 778.64,270.24 780.26,271.53 781.87,272.82 783.49,274.11 785.11,275.40 786.72,276.69 788.34,277.98 789.96,279.27 791.58,280.55 793.19,281.84 794.81,283.13 796.43,284.42 798.04,285.71 799.66,287.00 801.28,288.29 802.90,289.58 804.51,290.87 806.13,292.15 807.75,293.44 809.37,294.73 810.98,296.02 812.60,297.31 814.22,298.60 815.83,299.89 817.45,301.18 819.07,302.47 820.69,303.75 822.30,305.04 823.92,306.33 825.54,307.62 827.15,308.91 828.77,310.20 830.39,311.49 832.01,312.78 833.62,314.07 835.24,315.35 836.86,316.64 838.47,317.93 840.09,319.22 841.71,320.51 843.33,321.80 844.94,323.09 846.56,324.38 848.18,325.67 849.79,326.95 851.41,328.24 853.03,329.53 854.65,330.82 856.26,332.11 857.88,333.40 859.50,334.69 861.12,335.98 862.73,337.27 864.35,338.55 865.97,339.84 867.58,341.13 869.20,342.42 870.82,343.71 872.44,345.00 874.05,346.29 875.67,347.58 877.29,348.87 878.90,350.15 880.52,351.44 882.14,352.73 883.76,354.02 885.37,355.31 886.99,356.60 888.61,357.89 890.22,359.18 891.84,360.47 893.46,361.75 895.08,363.04 896.69,364.33 898.31,365.62 899.93,366.91 901.55,368.20 903.16,369.49 904.78,370.78 906.40,372.07 908.01,373.36 909.63,374.64 911.25,375.93 912.87,377.22 914.48,378.51 916.10,379.80 917.72,381.09 919.33,382.38 920.95,383.67 922.57,384.96 924.19,386.24 925.80,387.53 927.42,388.82 929.04,390.11 930.65,391.40 932.27,392.69 933.89,393.98 935.51,395.27 937.12,396.56 938.74,397.84 940.36,399.13 941.97,400.42 943.59,401.71 945.21,403.00 946.83,404.29" stroke-width="2.85" stroke-dasharray="6.04 6.04 18.12 6.04" stroke-dashoffset="22.03"/>
<polyline points="558.70,134.43 560.32,135.71 561.93,137.00 563.55,138.29 565.17,139.58 566.79,140.87 568.40,142.16 570.02,143.45 571.64,144.74 573.25,146.03 574.87,147.31 576.49,148.60 578.11,149.89 579.72,151.18 581.34,152.47 582.96,153.76 584.58,155.05 586.19,156.34 587.81,157.63 589.43,158.91 591.04,160.20 592.66,161.49 594.28,162.78 595.90,164.07 597.51,165.36 599.13,166.65 600.75,167.94 602.36,169.23 603.98,170.51 605.60,171.80 607.22,173.09 608.83,174.38 610.45,175.67 612.07,176.96 613.68,178.25 615.30,179.54 616.92,180.83 618.54,182.12 620.15,183.40 621.77,184.69 623.39,185.98 625.00,187.27 626.62,188.56 628.24,189.85 629.86,191.14 631.47,192.43 633.09,193.72 634.71,195.00 636.33,196.29 637.94,197.58 639.56,198.87 641.18,200.16 642.79,201.45 644.41,202.74 646.03,204.03 647.65,205.32 649.26,206.60 650.88,207.89 652.50,209.18 654.11,210.47 655.73,211.76 657.35,213.05 658.97,214.34 660.58,215.63 662.20,216.92 663.82,218.20 665.43,219.49 667.05,220.78 668.67,222.07 670.29,223.36 671.90,224.65 673.52,225.94 675.14,227.23 676.76,228.52 678.37,229.80 679.99,231.09 681.61,232.38 683.22,233.67 684.84,234.96 686.46,236.25 688.08,237.54 689.69,238.83 691.31,240.12 692.93,241.40 694.54,242.69 696.16,243.98 697.78,245.27 699.40,246.56 701.01,247.85 702.63,249.14 704.25,250.43 705.86,251.72 707.48,253.00 709.10,254.29 710.72,255.58 712.33,256.87 713.95,258.16 715.57,259.45 717.18,260.74 718.80,262.03 720.42,263.32 722.04,264.60 723.65,265.89 725.27,267.18 726.89,268.47 728.51,269.76 730.12,271.05 731.74,272.34 733.36,273.63 734.97,274.92 736.59,276.20 738.21,277.49 739.83,278.78 741.44,280.07 743.06,281.36 744.68,282.65 746.29,283.94 747.91,285.23 749.53,286.52 751.15,287.81 752.76,289.09 754.38,290.38 756.00,291.67 757.61,292.96 759.23,294.25 760.85,295.54 762.47,296.83 764.08,298.12 765.70,299.41 767.32,300.69 768.94,301.98 770.55,303.27 772.17,304.56 773.79,305.85 775.40,307.14 777.02,308.43 778.64,309.72 780.26,311.01 781.87,312.29 783.49,313.58 785.11,314.87 786.72,316.16 788.34,317.45 789.96,318.74 791.58,320.03 793.19,321.32 794.81,322.61 796.43,323.89 798.04,325.18 799.66,326.47 801.28,327.76 802.90,329.05 804.51,330.34 806.13,331.63 807.75,332.92 809.37,334.21 810.98,335.49 812.60,336.78 814.22,338.07 815.83,339.36 817.45,340.65 819.07,341.94 820.69,343.23 822.30,344.52 823.92,345.81 825.54,347.09 827.15,348.38 828.77,349.67 830.39,350.96 832.01,352.25 833.62,353.54 835.24,354.83 836.86,356.12 838.47,357.41 840.09,358.69 841.71,359.98 843.33,361.27 844.94,362.56 846.56,363.85 848.18,365.14 849.79,366.43 851.41,367.72 853.03,369.01 854.65,370.29 856.26,371.58 857.88,372.87 859.50,374.16 861.12,375.45 862.73,376.74 864.35,378.03 865.97,379.32 867.58,380.61 869.20,381.90 870.82,383.18 872.44,384.47 874.05,385.76 875.67,387.05 877.29,388.34 878.90,389.63 880.52,390.92 882.14,392.21 883.76,393.50 885.37,394.78 886.99,396.07 888.61,397.36 890.22,398.65 891.84,399.94 893.46,401.23 895.08,402.52 896.69,403.81 898.31,405.10 899.93,406.38 901.55,407.67 903.16,408.96 904.78,410.25 906.40,411.54 908.01,412.83 909.63,414.12 911.25,415.41 912.87,416.70 914.48,417.98 916.10,419.27 917.72,420.56 919.33,421.85 920.95,423.14 922.57,424.43 924.19,425.72 925.80,427.01 927.42,428.30 929.04,429.58 930.65,430.87 932.27,432.16 933.89,433.45 935.51,434.74 937.12,436.03 938.74,437.32 940.36,438.61 941.97,439.90 943.59,441.18 945.21,442.47 946.83,443.76" stroke-width="2.85" stroke-dasharray="12.08 12.08" stroke-dashoffset="9.75"/>
<polyline points="558.70,183.08 560.32,184.37 561.93,185.66 563.55,186.95 565.17,188.24 566.79,189.53 568.40,190.82 570.02,192.11 571.64,193.39 573.25,194.68 574.87,195.97 576.49,197.26 578.11,198.55 579.72,199.84 581.34,201.13 582.96,202.42 584.58,203.71 586.19,204.99 587.81,206.28 589.43,207.57 591.04,208.86 592.66,210.15 594.28,211.44 595.90,212.73 597.51,214.02 599.13,215.31 600.75,216.59 602.36,217.88 603.98,219.17 605.60,220.46 607.22,221.75 608.83,223.04 610.45,224.33 612.07,225.62 613.68,226.91 615.30,228.19 616.92,229.48 618.54,230.77 620.15,232.06 621.77,233.35 623.39,234.64 625.00,235.93 626.62,237.22 628.24,238.51 629.86,239.80 631.47,241.08 633.09,242.37 634.71,243.66 636.33,244.95 637.94,246.24 639.56,247.53 641.18,248.82 642.79,250.11 644.41,251.40 646.03,252.68 647.65,253.97 649.26,255.26 650.88,256.55 652.50,257.84 654.11,259.13 655.73,260.42 657.35,261.71 658.97,263.00 660.58,264.28 662.20,265.57 663.82,266.86 665.43,268.15 667.05,269.44 668.67,270.73 670.29,272.02 671.90,273.31 673.52,274.60 675.14,275.88 676.76,277.17 678.37,278.46 679.99,279.75 681.61,281.04 683.22,282.33 684.84,283.62 686.46,284.91 688.08,286.20 689.69,287.48 691.31,288.77 692.93,290.06 694.54,291.35 696.16,292.64 697.78,293.93 699.40,295.22 701.01,296.51 702.63,297.80 704.25,299.08 705.86,300.37 707.48,301.66 709.10,302.95 710.72,304.24 712.33,305.53 713.95,306.82 715.57,308.11 717.18,309.40 718.80,310.68 720.42,311.97 722.04,313.26 723.65,314.55 725.27,315.84 726.89,317.13 728.51,318.42 730.12,319.71 731.74,321.00 733.36,322.28 734.97,323.57 736.59,324.86 738.21,326.15 739.83,327.44 741.44,328.73 743.06,330.02 744.68,331.31 746.29,332.60 747.91,333.89 749.53,335.17 751.15,336.46 752.76,337.75 754.38,339.04 756.00,340.33 757.61,341.62 759.23,342.91 760.85,344.20 762.47,345.49 764.08,346.77 765.70,348.06 767.32,349.35 768.94,350.64 770.55,351.93 772.17,353.22 773.79,354.51 775.40,355.80 777.02,357.09 778.64,358.37 780.26,359.66 781.87,360.95 783.49,362.24 785.11,363.53 786.72,364.82 788.34,366.11 789.96,367.40 791.58,368.69 793.19,369.97 794.81,371.26 796.43,372.55 798.04,373.84 799.66,375.13 801.28,376.42 802.90,377.71 804.51,379.00 806.13,380.29 807.75,381.57 809.37,382.86 810.98,384.15 812.60,385.44 814.22,386.73 815.83,388.02 817.45,389.31 819.07,390.60 820.69,391.89 822.30,393.17 823.92,394.46 825.54,395.75 827.15,397.04 828.77,398.33 830.39,399.62 832.01,400.91 833.62,402.20 835.24,403.49 836.86,404.77 838.47,406.06 840.09,407.35 841.71,408.64 843.33,409.93 844.94,411.22 846.56,412.51 848.18,413.80 849.79,415.09 851.41,416.37 853.03,417.66 854.65,418.95 856.26,420.24 857.88,421.53 859.50,422.82 861.12,424.11 862.73,425.40 864.35,426.69 865.97,427.98 867.58,429.26 869.20,430.55 870.82,431.84 872.44,433.13 874.05,434.42 875.67,435.71 877.29,437.00 878.90,438.29 880.52,439.58 882.14,440.86 883.76,442.15 885.37,443.44 886.99,444.73 888.61,446.02 890.22,447.31 891.84,448.60 893.46,449.89 895.08,451.18 896.69,452.46 898.31,453.75 899.93,455.04 901.55,456.33 903.16,457.62 904.78,458.91 906.40,460.20 908.01,461.49 909.63,462.78 911.25,464.06 912.87,465.35 914.48,466.64 916.10,467.93 917.72,469.22 919.33,470.51 920.95,471.80 922.57,473.09 924.19,474.38 925.80,475.66 927.42,476.95 929.04,478.24 930.65,479.53 932.27,480.82 933.89,482.11 935.51,483.40 937.12,484.69 938.74,485.98 940.36,487.26 941.97,488.55 943.59,489.84 945.21,491.13 946.83,492.42" stroke-width="2.85" stroke-dasharray="21.14 9.06" stroke-dashoffset="27.90"/>
<path d="M691.20 196.80L686.70 239.60L740.40 239.30L743.70 279.40L789.90 279.20L792.40 319.40L839.00 319.00L839.00 530.60" stroke-width="2.35" stroke-dasharray="2.50 9.10" stroke-dashoffset="-0.20"/>
</g>
<g clip-path="url(#clipp2)" fill="#0b0b0b" stroke="none">
<circle cx="691.20" cy="196.80" r="3.90"/>
<rect x="683.00" y="235.90" width="7.40" height="7.40"/>
<path d="M740.40 234.30L745.40 242.60H735.40Z"/>
<rect x="740.00" y="275.70" width="7.40" height="7.40"/>
<path d="M789.90 274.20L794.90 282.50H784.90Z"/>
<rect x="788.70" y="315.70" width="7.40" height="7.40"/>
<path d="M839.00 315.40L842.60 319.00L839.00 322.60L835.40 319.00Z"/>
<path d="M839.00 526.50L842.60 530.10L839.00 533.70L835.40 530.10Z"/>
</g>
<path d="M558.70 65.50V531.50" stroke="#383838" stroke-width="1.5"/>
<path d="M558.00 530.60H939.80" stroke="#222" stroke-width="1.9"/>
<rect x="558.70" y="39.85" width="380.60" height="25.65" fill="#f2f2f2"/>
<path d="M558.70 65.50V39.85H939.30V65.50" fill="none" stroke="#363636" stroke-width="1.6" stroke-linejoin="round"/>
<path d="M558.00 65.50H939.90" stroke="#222" stroke-width="2"/>
<text x="750.40" y="57.45" font-size="12.00" text-anchor="middle" fill="#222">Potential model</text>
<path d="M554.50 87.29H558.70M554.50 136.14H558.70M554.50 185.00H558.70M554.50 347.30H558.70M554.50 509.60H558.70M575.80 530.60v3.7M680.00 530.60v3.7M784.20 530.60v3.7M845.15 530.60v3.7M888.40 530.60v3.7M921.94 530.60v3.7" stroke="#4a4a4a" stroke-width="1.15" fill="none"/>
<text x="543.25" y="92.39" font-size="12.00" text-anchor="end" fill="#222" word-spacing="0.6" letter-spacing="0.2">4 000</text>
<text x="543.25" y="140.04" font-size="12.00" text-anchor="end" fill="#222" word-spacing="0.6" letter-spacing="0.2">2 000</text>
<text x="543.25" y="189.40" font-size="12.00" text-anchor="end" fill="#222" word-spacing="0.6" letter-spacing="0.2">1 000</text>
<text x="543.25" y="351.40" font-size="12.00" text-anchor="end" fill="#222" word-spacing="0.6" letter-spacing="0.2">100</text>
<text x="543.25" y="513.90" font-size="12.00" text-anchor="end" fill="#222" word-spacing="0.6" letter-spacing="0.2">10</text>
<text x="577.35" y="552.90" font-size="12.30" text-anchor="middle" fill="#222" letter-spacing="0.1">10</text>
<text x="681.15" y="552.90" font-size="12.30" text-anchor="middle" fill="#222" letter-spacing="0.1">20</text>
<text x="785.85" y="552.90" font-size="12.30" text-anchor="middle" fill="#222" letter-spacing="0.1">40</text>
<text x="847.25" y="552.90" font-size="12.30" text-anchor="middle" fill="#222" letter-spacing="0.1">60</text>
<text x="889.95" y="552.90" font-size="12.30" text-anchor="middle" fill="#222" letter-spacing="0.1">80</text>
<text x="924.15" y="552.90" font-size="12.30" text-anchor="middle" fill="#222" letter-spacing="0.1">100</text>
<text x="749.60" y="572.40" font-size="13.60" font-weight="bold" class="b" text-anchor="middle" fill="#111"><tspan font-style="italic">Dq</tspan> (cm)</text>
<text transform="translate(508.20,299.40) rotate(-90)" font-size="13.60" font-weight="bold" class="b" text-anchor="middle" fill="#111"><tspan font-style="italic">N</tspan> (Trees ha<tspan font-size="8.43" dy="-4.60">-1</tspan><tspan dy="4.60">)</tspan></text>
</g>
<g id="p3">
<clipPath id="clipp3"><rect x="100.00" y="641.90" width="377.80" height="460.30"/></clipPath>
<rect x="100.00" y="641.90" width="377.80" height="460.30" fill="#fff"/>
<g clip-path="url(#clipp3)" fill="none"><defs><path id="gridp3" d="M117.15 641.90V1102.20M144.37 641.90V1102.20M167.39 641.90V1102.20M187.33 641.90V1102.20M204.92 641.90V1102.20M220.65 641.90V1102.20M234.88 641.90V1102.20M247.87 641.90V1102.20M259.83 641.90V1102.20M270.89 641.90V1102.20M281.19 641.90V1102.20M290.83 641.90V1102.20M299.88 641.90V1102.20M308.42 641.90V1102.20M316.49 641.90V1102.20M324.15 641.90V1102.20M331.44 641.90V1102.20M338.38 641.90V1102.20M345.02 641.90V1102.20M351.37 641.90V1102.20M357.47 641.90V1102.20M363.33 641.90V1102.20M368.96 641.90V1102.20M374.39 641.90V1102.20M379.63 641.90V1102.20M384.69 641.90V1102.20M389.59 641.90V1102.20M394.33 641.90V1102.20M398.93 641.90V1102.20M403.38 641.90V1102.20M407.71 641.90V1102.20M411.92 641.90V1102.20M416.01 641.90V1102.20M419.99 641.90V1102.20M423.87 641.90V1102.20M427.65 641.90V1102.20M431.34 641.90V1102.20M434.94 641.90V1102.20M438.45 641.90V1102.20M441.88 641.90V1102.20M445.24 641.90V1102.20M448.52 641.90V1102.20M451.73 641.90V1102.20M454.87 641.90V1102.20M457.95 641.90V1102.20M460.97 641.90V1102.20M463.93 641.90V1102.20M466.83 641.90V1102.20M469.67 641.90V1102.20M472.46 641.90V1102.20M475.20 641.90V1102.20M100.00 1081.40H477.80M100.00 1033.05H477.80M100.00 1004.77H477.80M100.00 984.71H477.80M100.00 969.15H477.80M100.00 956.43H477.80M100.00 945.68H477.80M100.00 936.36H477.80M100.00 928.15H477.80M100.00 920.80H477.80M100.00 872.45H477.80M100.00 844.17H477.80M100.00 824.11H477.80M100.00 808.55H477.80M100.00 795.83H477.80M100.00 785.08H477.80M100.00 775.76H477.80M100.00 767.55H477.80M100.00 760.20H477.80M100.00 731.92H477.80M100.00 711.85H477.80M100.00 696.29H477.80M100.00 683.57H477.80M100.00 672.82H477.80M100.00 663.51H477.80"/></defs><use href="#gridp3" stroke="#f7f7f7" stroke-width="2.3"/><use href="#gridp3" stroke="#ebebeb" stroke-width="1.15"/></g>
<path d="M477.80 641.90V1102.20" stroke="#b8b8b8" stroke-width="1.1"/>
<g clip-path="url(#clipp3)" fill="none" stroke="#0b0b0b">
<polyline points="100.00,727.06 101.61,727.35 103.21,727.64 104.82,727.93 106.43,728.23 108.04,728.53 109.64,728.84 111.25,729.14 112.86,729.45 114.46,729.77 116.07,730.08 117.68,730.41 119.28,730.73 120.89,731.06 122.50,731.39 124.11,731.72 125.71,732.06 127.32,732.40 128.93,732.75 130.53,733.10 132.14,733.45 133.75,733.81 135.35,734.17 136.96,734.54 138.57,734.90 140.18,735.28 141.78,735.65 143.39,736.04 145.00,736.42 146.60,736.81 148.21,737.20 149.82,737.60 151.42,738.00 153.03,738.41 154.64,738.82 156.25,739.24 157.85,739.66 159.46,740.08 161.07,740.51 162.67,740.94 164.28,741.38 165.89,741.82 167.49,742.27 169.10,742.72 170.71,743.18 172.32,743.64 173.92,744.11 175.53,744.58 177.14,745.06 178.74,745.55 180.35,746.03 181.96,746.53 183.56,747.03 185.17,747.53 186.78,748.04 188.39,748.55 189.99,749.07 191.60,749.60 193.21,750.13 194.81,750.67 196.42,751.21 198.03,751.76 199.64,752.32 201.24,752.88 202.85,753.45 204.46,754.02 206.06,754.60 207.67,755.19 209.28,755.78 210.88,756.38 212.49,756.98 214.10,757.59 215.71,758.21 217.31,758.84 218.92,759.47 220.53,760.11 222.13,760.75 223.74,761.41 225.35,762.07 226.95,762.73 228.56,763.41 230.17,764.09 231.78,764.78 233.38,765.47 234.99,766.18 236.60,766.89 238.20,767.61 239.81,768.33 241.42,769.07 243.02,769.81 244.63,770.56 246.24,771.32 247.85,772.09 249.45,772.86 251.06,773.65 252.67,774.44 254.27,775.24 255.88,776.05 257.49,776.87 259.09,777.69 260.70,778.53 262.31,779.38 263.92,780.23 265.52,781.09 267.13,781.97 268.74,782.85 270.34,783.74 271.95,784.64 273.56,785.55 275.16,786.47 276.77,787.40 278.38,788.34 279.99,789.30 281.59,790.26 283.20,791.23 284.81,792.21 286.41,793.20 288.02,794.21 289.63,795.22 291.23,796.25 292.84,797.29 294.45,798.33 296.06,799.39 297.66,800.46 299.27,801.55 300.88,802.64 302.48,803.75 304.09,804.86 305.70,805.99 307.31,807.13 308.91,808.29 310.52,809.46 312.13,810.64 313.73,811.83 315.34,813.03 316.95,814.25 318.55,815.48 320.16,816.73 321.77,817.99 323.38,819.26 324.98,820.54 326.59,821.84 328.20,823.16 329.80,824.49 331.41,825.83 333.02,827.18 334.62,828.56 336.23,829.94 337.84,831.34 339.45,832.76 341.05,834.19 342.66,835.64 344.27,837.10 345.87,838.58 347.48,840.07 349.09,841.59 350.69,843.11 352.30,844.66 353.91,846.22 355.52,847.79 357.12,849.39 358.73,851.00 360.34,852.63 361.94,854.28 363.55,855.94 365.16,857.62 366.76,859.32 368.37,861.04 369.98,862.78 371.59,864.54 373.19,866.31 374.80,868.11 376.41,869.92 378.01,871.76 379.62,873.61 381.23,875.48 382.83,877.38 384.44,879.29 386.05,881.23 387.66,883.18 389.26,885.16 390.87,887.16 392.48,889.18 394.08,891.22 395.69,893.29 397.30,895.37 398.91,897.48 400.51,899.62 402.12,901.77 403.73,903.95 405.33,906.15 406.94,908.38 408.55,910.63 410.15,912.90 411.76,915.20 413.37,917.52 414.98,919.87 416.58,922.25 418.19,924.65 419.80,927.07 421.40,929.53 423.01,932.00 424.62,934.51 426.22,937.04 427.83,939.60 429.44,942.19 431.05,944.81 432.65,947.45 434.26,950.12 435.87,952.83 437.47,955.56 439.08,958.32 440.69,961.11 442.29,963.93 443.90,966.78 445.51,969.66 447.12,972.57 448.72,975.52 450.33,978.49 451.94,981.50 453.54,984.54 455.15,987.62 456.76,990.73 458.36,993.87 459.97,997.04 461.58,1000.25 463.19,1003.50 464.79,1006.77 466.40,1010.09 468.01,1013.44 469.61,1016.83 471.22,1020.25 472.83,1023.71 474.43,1027.21 476.04,1030.74 477.65,1034.32 479.26,1037.93 480.86,1041.58 482.47,1045.27 484.08,1049.00 485.68,1052.78" stroke-width="2.85"/>
<polyline points="100.00,751.94 101.61,752.22 103.21,752.52 104.82,752.81 106.43,753.11 108.04,753.41 109.64,753.71 111.25,754.02 112.86,754.33 114.46,754.64 116.07,754.96 117.68,755.28 119.28,755.61 120.89,755.93 122.50,756.27 124.11,756.60 125.71,756.94 127.32,757.28 128.93,757.63 130.53,757.98 132.14,758.33 133.75,758.69 135.35,759.05 136.96,759.41 138.57,759.78 140.18,760.16 141.78,760.53 143.39,760.91 145.00,761.30 146.60,761.69 148.21,762.08 149.82,762.48 151.42,762.88 153.03,763.29 154.64,763.70 156.25,764.11 157.85,764.53 159.46,764.96 161.07,765.39 162.67,765.82 164.28,766.26 165.89,766.70 167.49,767.15 169.10,767.60 170.71,768.06 172.32,768.52 173.92,768.99 175.53,769.46 177.14,769.94 178.74,770.42 180.35,770.91 181.96,771.40 183.56,771.90 185.17,772.41 186.78,772.92 188.39,773.43 189.99,773.95 191.60,774.48 193.21,775.01 194.81,775.55 196.42,776.09 198.03,776.64 199.64,777.20 201.24,777.76 202.85,778.32 204.46,778.90 206.06,779.48 207.67,780.06 209.28,780.66 210.88,781.25 212.49,781.86 214.10,782.47 215.71,783.09 217.31,783.72 218.92,784.35 220.53,784.99 222.13,785.63 223.74,786.28 225.35,786.94 226.95,787.61 228.56,788.29 230.17,788.97 231.78,789.66 233.38,790.35 234.99,791.05 236.60,791.77 238.20,792.49 239.81,793.21 241.42,793.95 243.02,794.69 244.63,795.44 246.24,796.20 247.85,796.97 249.45,797.74 251.06,798.52 252.67,799.32 254.27,800.12 255.88,800.93 257.49,801.74 259.09,802.57 260.70,803.41 262.31,804.25 263.92,805.11 265.52,805.97 267.13,806.84 268.74,807.73 270.34,808.62 271.95,809.52 273.56,810.43 275.16,811.35 276.77,812.28 278.38,813.22 279.99,814.17 281.59,815.13 283.20,816.11 284.81,817.09 286.41,818.08 288.02,819.09 289.63,820.10 291.23,821.13 292.84,822.16 294.45,823.21 296.06,824.27 297.66,825.34 299.27,826.42 300.88,827.52 302.48,828.62 304.09,829.74 305.70,830.87 307.31,832.01 308.91,833.17 310.52,834.33 312.13,835.51 313.73,836.71 315.34,837.91 316.95,839.13 318.55,840.36 320.16,841.61 321.77,842.86 323.38,844.14 324.98,845.42 326.59,846.72 328.20,848.03 329.80,849.36 331.41,850.70 333.02,852.06 334.62,853.43 336.23,854.82 337.84,856.22 339.45,857.64 341.05,859.07 342.66,860.52 344.27,861.98 345.87,863.46 347.48,864.95 349.09,866.46 350.69,867.99 352.30,869.53 353.91,871.09 355.52,872.67 357.12,874.27 358.73,875.88 360.34,877.51 361.94,879.15 363.55,880.82 365.16,882.50 366.76,884.20 368.37,885.92 369.98,887.66 371.59,889.42 373.19,891.19 374.80,892.99 376.41,894.80 378.01,896.63 379.62,898.49 381.23,900.36 382.83,902.26 384.44,904.17 386.05,906.11 387.66,908.06 389.26,910.04 390.87,912.04 392.48,914.06 394.08,916.10 395.69,918.16 397.30,920.25 398.91,922.36 400.51,924.49 402.12,926.65 403.73,928.83 405.33,931.03 406.94,933.25 408.55,935.50 410.15,937.78 411.76,940.08 413.37,942.40 414.98,944.75 416.58,947.12 418.19,949.52 419.80,951.95 421.40,954.40 423.01,956.88 424.62,959.39 426.22,961.92 427.83,964.48 429.44,967.07 431.05,969.68 432.65,972.33 434.26,975.00 435.87,977.70 437.47,980.43 439.08,983.19 440.69,985.98 442.29,988.80 443.90,991.66 445.51,994.54 447.12,997.45 448.72,1000.40 450.33,1003.37 451.94,1006.38 453.54,1009.42 455.15,1012.50 456.76,1015.60 458.36,1018.74 459.97,1021.92 461.58,1025.13 463.19,1028.37 464.79,1031.65 466.40,1034.97 468.01,1038.32 469.61,1041.70 471.22,1045.13 472.83,1048.59 474.43,1052.09 476.04,1055.62 477.65,1059.20 479.26,1062.81 480.86,1066.46 482.47,1070.15 484.08,1073.88 485.68,1077.65" stroke-width="2.85" stroke-dasharray="6.01 6.01 18.03 6.01" stroke-dashoffset="3.84"/>
<polyline points="100.00,790.97 101.61,791.26 103.21,791.55 104.82,791.84 106.43,792.14 108.04,792.44 109.64,792.74 111.25,793.05 112.86,793.36 114.46,793.68 116.07,793.99 117.68,794.31 119.28,794.64 120.89,794.97 122.50,795.30 124.11,795.63 125.71,795.97 127.32,796.31 128.93,796.66 130.53,797.01 132.14,797.36 133.75,797.72 135.35,798.08 136.96,798.45 138.57,798.81 140.18,799.19 141.78,799.56 143.39,799.94 145.00,800.33 146.60,800.72 148.21,801.11 149.82,801.51 151.42,801.91 153.03,802.32 154.64,802.73 156.25,803.15 157.85,803.57 159.46,803.99 161.07,804.42 162.67,804.85 164.28,805.29 165.89,805.73 167.49,806.18 169.10,806.63 170.71,807.09 172.32,807.55 173.92,808.02 175.53,808.49 177.14,808.97 178.74,809.45 180.35,809.94 181.96,810.44 183.56,810.93 185.17,811.44 186.78,811.95 188.39,812.46 189.99,812.98 191.60,813.51 193.21,814.04 194.81,814.58 196.42,815.12 198.03,815.67 199.64,816.23 201.24,816.79 202.85,817.36 204.46,817.93 206.06,818.51 207.67,819.10 209.28,819.69 210.88,820.29 212.49,820.89 214.10,821.50 215.71,822.12 217.31,822.75 218.92,823.38 220.53,824.02 222.13,824.66 223.74,825.32 225.35,825.98 226.95,826.64 228.56,827.32 230.17,828.00 231.78,828.69 233.38,829.38 234.99,830.09 236.60,830.80 238.20,831.52 239.81,832.24 241.42,832.98 243.02,833.72 244.63,834.47 246.24,835.23 247.85,836.00 249.45,836.77 251.06,837.56 252.67,838.35 254.27,839.15 255.88,839.96 257.49,840.78 259.09,841.60 260.70,842.44 262.31,843.28 263.92,844.14 265.52,845.00 267.13,845.87 268.74,846.76 270.34,847.65 271.95,848.55 273.56,849.46 275.16,850.38 276.77,851.31 278.38,852.25 279.99,853.21 281.59,854.17 283.20,855.14 284.81,856.12 286.41,857.11 288.02,858.12 289.63,859.13 291.23,860.16 292.84,861.19 294.45,862.24 296.06,863.30 297.66,864.37 299.27,865.45 300.88,866.55 302.48,867.65 304.09,868.77 305.70,869.90 307.31,871.04 308.91,872.20 310.52,873.37 312.13,874.55 313.73,875.74 315.34,876.94 316.95,878.16 318.55,879.39 320.16,880.64 321.77,881.90 323.38,883.17 324.98,884.45 326.59,885.75 328.20,887.07 329.80,888.39 331.41,889.74 333.02,891.09 334.62,892.46 336.23,893.85 337.84,895.25 339.45,896.67 341.05,898.10 342.66,899.55 344.27,901.01 345.87,902.49 347.48,903.98 349.09,905.49 350.69,907.02 352.30,908.57 353.91,910.13 355.52,911.70 357.12,913.30 358.73,914.91 360.34,916.54 361.94,918.19 363.55,919.85 365.16,921.53 366.76,923.23 368.37,924.95 369.98,926.69 371.59,928.45 373.19,930.22 374.80,932.02 376.41,933.83 378.01,935.67 379.62,937.52 381.23,939.39 382.83,941.29 384.44,943.20 386.05,945.14 387.66,947.09 389.26,949.07 390.87,951.07 392.48,953.09 394.08,955.13 395.69,957.20 397.30,959.28 398.91,961.39 400.51,963.52 402.12,965.68 403.73,967.86 405.33,970.06 406.94,972.29 408.55,974.54 410.15,976.81 411.76,979.11 413.37,981.43 414.98,983.78 416.58,986.16 418.19,988.56 419.80,990.98 421.40,993.43 423.01,995.91 424.62,998.42 426.22,1000.95 427.83,1003.51 429.44,1006.10 431.05,1008.72 432.65,1011.36 434.26,1014.03 435.87,1016.73 437.47,1019.47 439.08,1022.23 440.69,1025.02 442.29,1027.84 443.90,1030.69 445.51,1033.57 447.12,1036.48 448.72,1039.43 450.33,1042.40 451.94,1045.41 453.54,1048.45 455.15,1051.53 456.76,1054.63 458.36,1057.78 459.97,1060.95 461.58,1064.16 463.19,1067.40 464.79,1070.68 466.40,1074.00 468.01,1077.35 469.61,1080.74 471.22,1084.16 472.83,1087.62 474.43,1091.12 476.04,1094.65 477.65,1098.23 479.26,1101.84 480.86,1105.49 482.47,1109.18 484.08,1112.91 485.68,1116.69" stroke-width="2.85" stroke-dasharray="12.02 12.02" stroke-dashoffset="15.69"/>
<polyline points="100.00,839.31 101.61,839.60 103.21,839.89 104.82,840.19 106.43,840.49 108.04,840.79 109.64,841.09 111.25,841.40 112.86,841.71 114.46,842.02 116.07,842.34 117.68,842.66 119.28,842.98 120.89,843.31 122.50,843.64 124.11,843.98 125.71,844.32 127.32,844.66 128.93,845.00 130.53,845.35 132.14,845.71 133.75,846.06 135.35,846.43 136.96,846.79 138.57,847.16 140.18,847.53 141.78,847.91 143.39,848.29 145.00,848.68 146.60,849.06 148.21,849.46 149.82,849.86 151.42,850.26 153.03,850.66 154.64,851.08 156.25,851.49 157.85,851.91 159.46,852.33 161.07,852.76 162.67,853.20 164.28,853.64 165.89,854.08 167.49,854.53 169.10,854.98 170.71,855.44 172.32,855.90 173.92,856.37 175.53,856.84 177.14,857.32 178.74,857.80 180.35,858.29 181.96,858.78 183.56,859.28 185.17,859.78 186.78,860.29 188.39,860.81 189.99,861.33 191.60,861.86 193.21,862.39 194.81,862.92 196.42,863.47 198.03,864.02 199.64,864.57 201.24,865.13 202.85,865.70 204.46,866.28 206.06,866.86 207.67,867.44 209.28,868.03 210.88,868.63 212.49,869.24 214.10,869.85 215.71,870.47 217.31,871.09 218.92,871.72 220.53,872.36 222.13,873.01 223.74,873.66 225.35,874.32 226.95,874.99 228.56,875.66 230.17,876.34 231.78,877.03 233.38,877.73 234.99,878.43 236.60,879.14 238.20,879.86 239.81,880.59 241.42,881.32 243.02,882.07 244.63,882.82 246.24,883.58 247.85,884.34 249.45,885.12 251.06,885.90 252.67,886.69 254.27,887.49 255.88,888.30 257.49,889.12 259.09,889.95 260.70,890.79 262.31,891.63 263.92,892.48 265.52,893.35 267.13,894.22 268.74,895.10 270.34,895.99 271.95,896.90 273.56,897.81 275.16,898.73 276.77,899.66 278.38,900.60 279.99,901.55 281.59,902.51 283.20,903.48 284.81,904.47 286.41,905.46 288.02,906.46 289.63,907.48 291.23,908.50 292.84,909.54 294.45,910.59 296.06,911.65 297.66,912.72 299.27,913.80 300.88,914.89 302.48,916.00 304.09,917.12 305.70,918.25 307.31,919.39 308.91,920.54 310.52,921.71 312.13,922.89 313.73,924.08 315.34,925.29 316.95,926.51 318.55,927.74 320.16,928.98 321.77,930.24 323.38,931.51 324.98,932.80 326.59,934.10 328.20,935.41 329.80,936.74 331.41,938.08 333.02,939.44 334.62,940.81 336.23,942.20 337.84,943.60 339.45,945.01 341.05,946.45 342.66,947.89 344.27,949.36 345.87,950.83 347.48,952.33 349.09,953.84 350.69,955.37 352.30,956.91 353.91,958.47 355.52,960.05 357.12,961.64 358.73,963.26 360.34,964.88 361.94,966.53 363.55,968.20 365.16,969.88 366.76,971.58 368.37,973.30 369.98,975.04 371.59,976.79 373.19,978.57 374.80,980.36 376.41,982.18 378.01,984.01 379.62,985.86 381.23,987.74 382.83,989.63 384.44,991.55 386.05,993.48 387.66,995.44 389.26,997.42 390.87,999.41 392.48,1001.44 394.08,1003.48 395.69,1005.54 397.30,1007.63 398.91,1009.74 400.51,1011.87 402.12,1014.03 403.73,1016.20 405.33,1018.41 406.94,1020.63 408.55,1022.88 410.15,1025.16 411.76,1027.45 413.37,1029.78 414.98,1032.13 416.58,1034.50 418.19,1036.90 419.80,1039.33 421.40,1041.78 423.01,1044.26 424.62,1046.76 426.22,1049.30 427.83,1051.86 429.44,1054.45 431.05,1057.06 432.65,1059.71 434.26,1062.38 435.87,1065.08 437.47,1067.81 439.08,1070.57 440.69,1073.36 442.29,1076.18 443.90,1079.03 445.51,1081.91 447.12,1084.83 448.72,1087.77 450.33,1090.75 451.94,1093.76 453.54,1096.80 455.15,1099.87 456.76,1102.98 458.36,1106.12 459.97,1109.30 461.58,1112.51 463.19,1115.75 464.79,1119.03 466.40,1122.34 468.01,1125.69 469.61,1129.08 471.22,1132.50 472.83,1135.96 474.43,1139.46 476.04,1143.00 477.65,1146.57 479.26,1150.19 480.86,1153.84 482.47,1157.53 484.08,1161.26 485.68,1165.03" stroke-width="2.85" stroke-dasharray="21.04 9.01" stroke-dashoffset="27.72"/>
<path d="M231.50 772.30L231.50 829.00L302.40 828.20L302.40 868.00L350.60 867.40L350.60 907.70L386.60 907.40L386.60 1102.20" stroke-width="2.30" stroke-dasharray="2.47 9.01" stroke-dashoffset="-0.20"/>
</g>
<g clip-path="url(#clipp3)" fill="#0b0b0b" stroke="none">
<circle cx="231.50" cy="772.30" r="3.86"/>
<rect x="227.84" y="825.34" width="7.33" height="7.33"/>
<path d="M302.40 823.25L307.35 831.47H297.45Z"/>
<rect x="298.74" y="864.34" width="7.33" height="7.33"/>
<path d="M350.60 862.45L355.55 870.67H345.65Z"/>
<rect x="346.94" y="904.04" width="7.33" height="7.33"/>
<path d="M386.60 903.84L390.16 907.40L386.60 910.96L383.04 907.40Z"/>
<path d="M386.60 1098.14L390.16 1101.70L386.60 1105.26L383.04 1101.70Z"/>
</g>
<path d="M100.00 641.90V1103.10" stroke="#383838" stroke-width="1.5"/>
<path d="M99.30 1102.20H478.30" stroke="#222" stroke-width="1.9"/>
<rect x="100.00" y="616.20" width="377.80" height="25.70" fill="#f2f2f2"/>
<path d="M100.00 641.90V616.20H477.80V641.90" fill="none" stroke="#363636" stroke-width="1.6" stroke-linejoin="round"/>
<path d="M99.30 641.90H478.40" stroke="#222" stroke-width="2"/>
<text x="291.90" y="633.00" font-size="11.85" text-anchor="middle" fill="#222">Exponential model</text>
<path d="M95.80 663.51H100.00M95.80 711.85H100.00M95.80 760.20H100.00M95.80 920.80H100.00M95.80 1081.40H100.00M117.15 1102.20v3.7M220.65 1102.20v3.7M324.15 1102.20v3.7M384.69 1102.20v3.7M427.65 1102.20v3.7M460.97 1102.20v3.7" stroke="#4a4a4a" stroke-width="1.15" fill="none"/>
<text x="85.25" y="669.21" font-size="11.85" text-anchor="end" fill="#222" word-spacing="0.6" letter-spacing="0.2">4 000</text>
<text x="85.25" y="716.35" font-size="11.85" text-anchor="end" fill="#222" word-spacing="0.6" letter-spacing="0.2">2 000</text>
<text x="85.25" y="765.60" font-size="11.85" text-anchor="end" fill="#222" word-spacing="0.6" letter-spacing="0.2">1 000</text>
<text x="85.25" y="925.00" font-size="11.85" text-anchor="end" fill="#222" word-spacing="0.6" letter-spacing="0.2">100</text>
<text x="85.25" y="1085.80" font-size="11.85" text-anchor="end" fill="#222" word-spacing="0.6" letter-spacing="0.2">10</text>
<text x="116.95" y="1124.90" font-size="11.85" text-anchor="middle" fill="#222" letter-spacing="0.1">10</text>
<text x="220.40" y="1124.90" font-size="11.85" text-anchor="middle" fill="#222" letter-spacing="0.1">20</text>
<text x="323.15" y="1124.90" font-size="11.85" text-anchor="middle" fill="#222" letter-spacing="0.1">40</text>
<text x="386.25" y="1124.90" font-size="11.85" text-anchor="middle" fill="#222" letter-spacing="0.1">60</text>
<text x="426.85" y="1124.90" font-size="11.85" text-anchor="middle" fill="#222" letter-spacing="0.1">80</text>
<text x="461.95" y="1124.90" font-size="11.85" text-anchor="middle" fill="#222" letter-spacing="0.1">100</text>
<text x="291.50" y="1144.30" font-size="13.46" font-weight="bold" class="b" text-anchor="middle" fill="#111"><tspan font-style="italic">Dq</tspan> (cm)</text>
<text transform="translate(46.70,869.45) rotate(-90)" font-size="13.46" font-weight="bold" class="b" text-anchor="middle" fill="#111"><tspan font-style="italic">N</tspan> (Trees ha<tspan font-size="8.35" dy="-4.55">-1</tspan><tspan dy="4.55">)</tspan></text>
</g>
<g id="p4">
<clipPath id="clipp4"><rect x="556.00" y="641.90" width="377.80" height="460.30"/></clipPath>
<rect x="556.00" y="641.90" width="377.80" height="460.30" fill="#fff"/>
<g clip-path="url(#clipp4)" fill="none"><defs><path id="gridp4" d="M573.15 641.90V1102.20M600.37 641.90V1102.20M623.39 641.90V1102.20M643.33 641.90V1102.20M660.92 641.90V1102.20M676.65 641.90V1102.20M690.88 641.90V1102.20M703.87 641.90V1102.20M715.83 641.90V1102.20M726.89 641.90V1102.20M737.19 641.90V1102.20M746.83 641.90V1102.20M755.88 641.90V1102.20M764.42 641.90V1102.20M772.49 641.90V1102.20M780.15 641.90V1102.20M787.44 641.90V1102.20M794.38 641.90V1102.20M801.02 641.90V1102.20M807.37 641.90V1102.20M813.47 641.90V1102.20M819.33 641.90V1102.20M824.96 641.90V1102.20M830.39 641.90V1102.20M835.63 641.90V1102.20M840.69 641.90V1102.20M845.59 641.90V1102.20M850.33 641.90V1102.20M854.93 641.90V1102.20M859.38 641.90V1102.20M863.71 641.90V1102.20M867.92 641.90V1102.20M872.01 641.90V1102.20M875.99 641.90V1102.20M879.87 641.90V1102.20M883.65 641.90V1102.20M887.34 641.90V1102.20M890.94 641.90V1102.20M894.45 641.90V1102.20M897.88 641.90V1102.20M901.24 641.90V1102.20M904.52 641.90V1102.20M907.73 641.90V1102.20M910.87 641.90V1102.20M913.95 641.90V1102.20M916.97 641.90V1102.20M919.93 641.90V1102.20M922.83 641.90V1102.20M925.67 641.90V1102.20M928.46 641.90V1102.20M931.20 641.90V1102.20M556.00 1081.40H933.80M556.00 1033.05H933.80M556.00 1004.77H933.80M556.00 984.71H933.80M556.00 969.15H933.80M556.00 956.43H933.80M556.00 945.68H933.80M556.00 936.36H933.80M556.00 928.15H933.80M556.00 920.80H933.80M556.00 872.45H933.80M556.00 844.17H933.80M556.00 824.11H933.80M556.00 808.55H933.80M556.00 795.83H933.80M556.00 785.08H933.80M556.00 775.76H933.80M556.00 767.55H933.80M556.00 760.20H933.80M556.00 731.92H933.80M556.00 711.85H933.80M556.00 696.29H933.80M556.00 683.57H933.80M556.00 672.82H933.80M556.00 663.51H933.80"/></defs><use href="#gridp4" stroke="#f7f7f7" stroke-width="2.3"/><use href="#gridp4" stroke="#ebebeb" stroke-width="1.15"/></g>
<path d="M933.80 641.90V1102.20" stroke="#b8b8b8" stroke-width="1.1"/>
<g clip-path="url(#clipp4)" fill="none" stroke="#0b0b0b">
<polyline points="556.00,727.06 557.61,727.35 559.21,727.64 560.82,727.93 562.43,728.23 564.04,728.53 565.64,728.84 567.25,729.14 568.86,729.45 570.46,729.77 572.07,730.08 573.68,730.41 575.28,730.73 576.89,731.06 578.50,731.39 580.11,731.72 581.71,732.06 583.32,732.40 584.93,732.75 586.53,733.10 588.14,733.45 589.75,733.81 591.35,734.17 592.96,734.54 594.57,734.90 596.18,735.28 597.78,735.65 599.39,736.04 601.00,736.42 602.60,736.81 604.21,737.20 605.82,737.60 607.42,738.00 609.03,738.41 610.64,738.82 612.25,739.24 613.85,739.66 615.46,740.08 617.07,740.51 618.67,740.94 620.28,741.38 621.89,741.82 623.49,742.27 625.10,742.72 626.71,743.18 628.32,743.64 629.92,744.11 631.53,744.58 633.14,745.06 634.74,745.55 636.35,746.03 637.96,746.53 639.56,747.03 641.17,747.53 642.78,748.04 644.39,748.55 645.99,749.07 647.60,749.60 649.21,750.13 650.81,750.67 652.42,751.21 654.03,751.76 655.64,752.32 657.24,752.88 658.85,753.45 660.46,754.02 662.06,754.60 663.67,755.19 665.28,755.78 666.88,756.38 668.49,756.98 670.10,757.59 671.71,758.21 673.31,758.84 674.92,759.47 676.53,760.11 678.13,760.75 679.74,761.41 681.35,762.07 682.95,762.73 684.56,763.41 686.17,764.09 687.78,764.78 689.38,765.47 690.99,766.18 692.60,766.89 694.20,767.61 695.81,768.33 697.42,769.07 699.02,769.81 700.63,770.56 702.24,771.32 703.85,772.09 705.45,772.86 707.06,773.65 708.67,774.44 710.27,775.24 711.88,776.05 713.49,776.87 715.09,777.69 716.70,778.53 718.31,779.38 719.92,780.23 721.52,781.09 723.13,781.97 724.74,782.85 726.34,783.74 727.95,784.64 729.56,785.55 731.16,786.47 732.77,787.40 734.38,788.34 735.99,789.30 737.59,790.26 739.20,791.23 740.81,792.21 742.41,793.20 744.02,794.21 745.63,795.22 747.23,796.25 748.84,797.29 750.45,798.33 752.06,799.39 753.66,800.46 755.27,801.55 756.88,802.64 758.48,803.75 760.09,804.86 761.70,805.99 763.31,807.13 764.91,808.29 766.52,809.46 768.13,810.64 769.73,811.83 771.34,813.03 772.95,814.25 774.55,815.48 776.16,816.73 777.77,817.99 779.38,819.26 780.98,820.54 782.59,821.84 784.20,823.16 785.80,824.49 787.41,825.83 789.02,827.18 790.62,828.56 792.23,829.94 793.84,831.34 795.45,832.76 797.05,834.19 798.66,835.64 800.27,837.10 801.87,838.58 803.48,840.07 805.09,841.59 806.69,843.11 808.30,844.66 809.91,846.22 811.52,847.79 813.12,849.39 814.73,851.00 816.34,852.63 817.94,854.28 819.55,855.94 821.16,857.62 822.76,859.32 824.37,861.04 825.98,862.78 827.59,864.54 829.19,866.31 830.80,868.11 832.41,869.92 834.01,871.76 835.62,873.61 837.23,875.48 838.83,877.38 840.44,879.29 842.05,881.23 843.66,883.18 845.26,885.16 846.87,887.16 848.48,889.18 850.08,891.22 851.69,893.29 853.30,895.37 854.91,897.48 856.51,899.62 858.12,901.77 859.73,903.95 861.33,906.15 862.94,908.38 864.55,910.63 866.15,912.90 867.76,915.20 869.37,917.52 870.98,919.87 872.58,922.25 874.19,924.65 875.80,927.07 877.40,929.53 879.01,932.00 880.62,934.51 882.22,937.04 883.83,939.60 885.44,942.19 887.05,944.81 888.65,947.45 890.26,950.12 891.87,952.83 893.47,955.56 895.08,958.32 896.69,961.11 898.29,963.93 899.90,966.78 901.51,969.66 903.12,972.57 904.72,975.52 906.33,978.49 907.94,981.50 909.54,984.54 911.15,987.62 912.76,990.73 914.36,993.87 915.97,997.04 917.58,1000.25 919.19,1003.50 920.79,1006.77 922.40,1010.09 924.01,1013.44 925.61,1016.83 927.22,1020.25 928.83,1023.71 930.43,1027.21 932.04,1030.74 933.65,1034.32 935.26,1037.93 936.86,1041.58 938.47,1045.27 940.08,1049.00 941.68,1052.78" stroke-width="2.85"/>
<polyline points="556.00,751.94 557.61,752.22 559.21,752.52 560.82,752.81 562.43,753.11 564.04,753.41 565.64,753.71 567.25,754.02 568.86,754.33 570.46,754.64 572.07,754.96 573.68,755.28 575.28,755.61 576.89,755.93 578.50,756.27 580.11,756.60 581.71,756.94 583.32,757.28 584.93,757.63 586.53,757.98 588.14,758.33 589.75,758.69 591.35,759.05 592.96,759.41 594.57,759.78 596.18,760.16 597.78,760.53 599.39,760.91 601.00,761.30 602.60,761.69 604.21,762.08 605.82,762.48 607.42,762.88 609.03,763.29 610.64,763.70 612.25,764.11 613.85,764.53 615.46,764.96 617.07,765.39 618.67,765.82 620.28,766.26 621.89,766.70 623.49,767.15 625.10,767.60 626.71,768.06 628.32,768.52 629.92,768.99 631.53,769.46 633.14,769.94 634.74,770.42 636.35,770.91 637.96,771.40 639.56,771.90 641.17,772.41 642.78,772.92 644.39,773.43 645.99,773.95 647.60,774.48 649.21,775.01 650.81,775.55 652.42,776.09 654.03,776.64 655.64,777.20 657.24,777.76 658.85,778.32 660.46,778.90 662.06,779.48 663.67,780.06 665.28,780.66 666.88,781.25 668.49,781.86 670.10,782.47 671.71,783.09 673.31,783.72 674.92,784.35 676.53,784.99 678.13,785.63 679.74,786.28 681.35,786.94 682.95,787.61 684.56,788.29 686.17,788.97 687.78,789.66 689.38,790.35 690.99,791.05 692.60,791.77 694.20,792.49 695.81,793.21 697.42,793.95 699.02,794.69 700.63,795.44 702.24,796.20 703.85,796.97 705.45,797.74 707.06,798.52 708.67,799.32 710.27,800.12 711.88,800.93 713.49,801.74 715.09,802.57 716.70,803.41 718.31,804.25 719.92,805.11 721.52,805.97 723.13,806.84 724.74,807.73 726.34,808.62 727.95,809.52 729.56,810.43 731.16,811.35 732.77,812.28 734.38,813.22 735.99,814.17 737.59,815.13 739.20,816.11 740.81,817.09 742.41,818.08 744.02,819.09 745.63,820.10 747.23,821.13 748.84,822.16 750.45,823.21 752.06,824.27 753.66,825.34 755.27,826.42 756.88,827.52 758.48,828.62 760.09,829.74 761.70,830.87 763.31,832.01 764.91,833.17 766.52,834.33 768.13,835.51 769.73,836.71 771.34,837.91 772.95,839.13 774.55,840.36 776.16,841.61 777.77,842.86 779.38,844.14 780.98,845.42 782.59,846.72 784.20,848.03 785.80,849.36 787.41,850.70 789.02,852.06 790.62,853.43 792.23,854.82 793.84,856.22 795.45,857.64 797.05,859.07 798.66,860.52 800.27,861.98 801.87,863.46 803.48,864.95 805.09,866.46 806.69,867.99 808.30,869.53 809.91,871.09 811.52,872.67 813.12,874.27 814.73,875.88 816.34,877.51 817.94,879.15 819.55,880.82 821.16,882.50 822.76,884.20 824.37,885.92 825.98,887.66 827.59,889.42 829.19,891.19 830.80,892.99 832.41,894.80 834.01,896.63 835.62,898.49 837.23,900.36 838.83,902.26 840.44,904.17 842.05,906.11 843.66,908.06 845.26,910.04 846.87,912.04 848.48,914.06 850.08,916.10 851.69,918.16 853.30,920.25 854.91,922.36 856.51,924.49 858.12,926.65 859.73,928.83 861.33,931.03 862.94,933.25 864.55,935.50 866.15,937.78 867.76,940.08 869.37,942.40 870.98,944.75 872.58,947.12 874.19,949.52 875.80,951.95 877.40,954.40 879.01,956.88 880.62,959.39 882.22,961.92 883.83,964.48 885.44,967.07 887.05,969.68 888.65,972.33 890.26,975.00 891.87,977.70 893.47,980.43 895.08,983.19 896.69,985.98 898.29,988.80 899.90,991.66 901.51,994.54 903.12,997.45 904.72,1000.40 906.33,1003.37 907.94,1006.38 909.54,1009.42 911.15,1012.50 912.76,1015.60 914.36,1018.74 915.97,1021.92 917.58,1025.13 919.19,1028.37 920.79,1031.65 922.40,1034.97 924.01,1038.32 925.61,1041.70 927.22,1045.13 928.83,1048.59 930.43,1052.09 932.04,1055.62 933.65,1059.20 935.26,1062.81 936.86,1066.46 938.47,1070.15 940.08,1073.88 941.68,1077.65" stroke-width="2.85" stroke-dasharray="6.01 6.01 18.03 6.01" stroke-dashoffset="3.84"/>
<polyline points="556.00,790.97 557.61,791.26 559.21,791.55 560.82,791.84 562.43,792.14 564.04,792.44 565.64,792.74 567.25,793.05 568.86,793.36 570.46,793.68 572.07,793.99 573.68,794.31 575.28,794.64 576.89,794.97 578.50,795.30 580.11,795.63 581.71,795.97 583.32,796.31 584.93,796.66 586.53,797.01 588.14,797.36 589.75,797.72 591.35,798.08 592.96,798.45 594.57,798.81 596.18,799.19 597.78,799.56 599.39,799.94 601.00,800.33 602.60,800.72 604.21,801.11 605.82,801.51 607.42,801.91 609.03,802.32 610.64,802.73 612.25,803.15 613.85,803.57 615.46,803.99 617.07,804.42 618.67,804.85 620.28,805.29 621.89,805.73 623.49,806.18 625.10,806.63 626.71,807.09 628.32,807.55 629.92,808.02 631.53,808.49 633.14,808.97 634.74,809.45 636.35,809.94 637.96,810.44 639.56,810.93 641.17,811.44 642.78,811.95 644.39,812.46 645.99,812.98 647.60,813.51 649.21,814.04 650.81,814.58 652.42,815.12 654.03,815.67 655.64,816.23 657.24,816.79 658.85,817.36 660.46,817.93 662.06,818.51 663.67,819.10 665.28,819.69 666.88,820.29 668.49,820.89 670.10,821.50 671.71,822.12 673.31,822.75 674.92,823.38 676.53,824.02 678.13,824.66 679.74,825.32 681.35,825.98 682.95,826.64 684.56,827.32 686.17,828.00 687.78,828.69 689.38,829.38 690.99,830.09 692.60,830.80 694.20,831.52 695.81,832.24 697.42,832.98 699.02,833.72 700.63,834.47 702.24,835.23 703.85,836.00 705.45,836.77 707.06,837.56 708.67,838.35 710.27,839.15 711.88,839.96 713.49,840.78 715.09,841.60 716.70,842.44 718.31,843.28 719.92,844.14 721.52,845.00 723.13,845.87 724.74,846.76 726.34,847.65 727.95,848.55 729.56,849.46 731.16,850.38 732.77,851.31 734.38,852.25 735.99,853.21 737.59,854.17 739.20,855.14 740.81,856.12 742.41,857.11 744.02,858.12 745.63,859.13 747.23,860.16 748.84,861.19 750.45,862.24 752.06,863.30 753.66,864.37 755.27,865.45 756.88,866.55 758.48,867.65 760.09,868.77 761.70,869.90 763.31,871.04 764.91,872.20 766.52,873.37 768.13,874.55 769.73,875.74 771.34,876.94 772.95,878.16 774.55,879.39 776.16,880.64 777.77,881.90 779.38,883.17 780.98,884.45 782.59,885.75 784.20,887.07 785.80,888.39 787.41,889.74 789.02,891.09 790.62,892.46 792.23,893.85 793.84,895.25 795.45,896.67 797.05,898.10 798.66,899.55 800.27,901.01 801.87,902.49 803.48,903.98 805.09,905.49 806.69,907.02 808.30,908.57 809.91,910.13 811.52,911.70 813.12,913.30 814.73,914.91 816.34,916.54 817.94,918.19 819.55,919.85 821.16,921.53 822.76,923.23 824.37,924.95 825.98,926.69 827.59,928.45 829.19,930.22 830.80,932.02 832.41,933.83 834.01,935.67 835.62,937.52 837.23,939.39 838.83,941.29 840.44,943.20 842.05,945.14 843.66,947.09 845.26,949.07 846.87,951.07 848.48,953.09 850.08,955.13 851.69,957.20 853.30,959.28 854.91,961.39 856.51,963.52 858.12,965.68 859.73,967.86 861.33,970.06 862.94,972.29 864.55,974.54 866.15,976.81 867.76,979.11 869.37,981.43 870.98,983.78 872.58,986.16 874.19,988.56 875.80,990.98 877.40,993.43 879.01,995.91 880.62,998.42 882.22,1000.95 883.83,1003.51 885.44,1006.10 887.05,1008.72 888.65,1011.36 890.26,1014.03 891.87,1016.73 893.47,1019.47 895.08,1022.23 896.69,1025.02 898.29,1027.84 899.90,1030.69 901.51,1033.57 903.12,1036.48 904.72,1039.43 906.33,1042.40 907.94,1045.41 909.54,1048.45 911.15,1051.53 912.76,1054.63 914.36,1057.78 915.97,1060.95 917.58,1064.16 919.19,1067.40 920.79,1070.68 922.40,1074.00 924.01,1077.35 925.61,1080.74 927.22,1084.16 928.83,1087.62 930.43,1091.12 932.04,1094.65 933.65,1098.23 935.26,1101.84 936.86,1105.49 938.47,1109.18 940.08,1112.91 941.68,1116.69" stroke-width="2.85" stroke-dasharray="12.02 12.02" stroke-dashoffset="15.69"/>
<polyline points="556.00,839.31 557.61,839.60 559.21,839.89 560.82,840.19 562.43,840.49 564.04,840.79 565.64,841.09 567.25,841.40 568.86,841.71 570.46,842.02 572.07,842.34 573.68,842.66 575.28,842.98 576.89,843.31 578.50,843.64 580.11,843.98 581.71,844.32 583.32,844.66 584.93,845.00 586.53,845.35 588.14,845.71 589.75,846.06 591.35,846.43 592.96,846.79 594.57,847.16 596.18,847.53 597.78,847.91 599.39,848.29 601.00,848.68 602.60,849.06 604.21,849.46 605.82,849.86 607.42,850.26 609.03,850.66 610.64,851.08 612.25,851.49 613.85,851.91 615.46,852.33 617.07,852.76 618.67,853.20 620.28,853.64 621.89,854.08 623.49,854.53 625.10,854.98 626.71,855.44 628.32,855.90 629.92,856.37 631.53,856.84 633.14,857.32 634.74,857.80 636.35,858.29 637.96,858.78 639.56,859.28 641.17,859.78 642.78,860.29 644.39,860.81 645.99,861.33 647.60,861.86 649.21,862.39 650.81,862.92 652.42,863.47 654.03,864.02 655.64,864.57 657.24,865.13 658.85,865.70 660.46,866.28 662.06,866.86 663.67,867.44 665.28,868.03 666.88,868.63 668.49,869.24 670.10,869.85 671.71,870.47 673.31,871.09 674.92,871.72 676.53,872.36 678.13,873.01 679.74,873.66 681.35,874.32 682.95,874.99 684.56,875.66 686.17,876.34 687.78,877.03 689.38,877.73 690.99,878.43 692.60,879.14 694.20,879.86 695.81,880.59 697.42,881.32 699.02,882.07 700.63,882.82 702.24,883.58 703.85,884.34 705.45,885.12 707.06,885.90 708.67,886.69 710.27,887.49 711.88,888.30 713.49,889.12 715.09,889.95 716.70,890.79 718.31,891.63 719.92,892.48 721.52,893.35 723.13,894.22 724.74,895.10 726.34,895.99 727.95,896.90 729.56,897.81 731.16,898.73 732.77,899.66 734.38,900.60 735.99,901.55 737.59,902.51 739.20,903.48 740.81,904.47 742.41,905.46 744.02,906.46 745.63,907.48 747.23,908.50 748.84,909.54 750.45,910.59 752.06,911.65 753.66,912.72 755.27,913.80 756.88,914.89 758.48,916.00 760.09,917.12 761.70,918.25 763.31,919.39 764.91,920.54 766.52,921.71 768.13,922.89 769.73,924.08 771.34,925.29 772.95,926.51 774.55,927.74 776.16,928.98 777.77,930.24 779.38,931.51 780.98,932.80 782.59,934.10 784.20,935.41 785.80,936.74 787.41,938.08 789.02,939.44 790.62,940.81 792.23,942.20 793.84,943.60 795.45,945.01 797.05,946.45 798.66,947.89 800.27,949.36 801.87,950.83 803.48,952.33 805.09,953.84 806.69,955.37 808.30,956.91 809.91,958.47 811.52,960.05 813.12,961.64 814.73,963.26 816.34,964.88 817.94,966.53 819.55,968.20 821.16,969.88 822.76,971.58 824.37,973.30 825.98,975.04 827.59,976.79 829.19,978.57 830.80,980.36 832.41,982.18 834.01,984.01 835.62,985.86 837.23,987.74 838.83,989.63 840.44,991.55 842.05,993.48 843.66,995.44 845.26,997.42 846.87,999.41 848.48,1001.44 850.08,1003.48 851.69,1005.54 853.30,1007.63 854.91,1009.74 856.51,1011.87 858.12,1014.03 859.73,1016.20 861.33,1018.41 862.94,1020.63 864.55,1022.88 866.15,1025.16 867.76,1027.45 869.37,1029.78 870.98,1032.13 872.58,1034.50 874.19,1036.90 875.80,1039.33 877.40,1041.78 879.01,1044.26 880.62,1046.76 882.22,1049.30 883.83,1051.86 885.44,1054.45 887.05,1057.06 888.65,1059.71 890.26,1062.38 891.87,1065.08 893.47,1067.81 895.08,1070.57 896.69,1073.36 898.29,1076.18 899.90,1079.03 901.51,1081.91 903.12,1084.83 904.72,1087.77 906.33,1090.75 907.94,1093.76 909.54,1096.80 911.15,1099.87 912.76,1102.98 914.36,1106.12 915.97,1109.30 917.58,1112.51 919.19,1115.75 920.79,1119.03 922.40,1122.34 924.01,1125.69 925.61,1129.08 927.22,1132.50 928.83,1135.96 930.43,1139.46 932.04,1143.00 933.65,1146.57 935.26,1150.19 936.86,1153.84 938.47,1157.53 940.08,1161.26 941.68,1165.03" stroke-width="2.85" stroke-dasharray="21.04 9.01" stroke-dashoffset="27.72"/>
<path d="M687.50 772.30L683.30 829.00L758.40 828.30L761.20 868.00L806.80 867.40L808.60 907.60L842.80 907.40L842.80 1102.20" stroke-width="2.30" stroke-dasharray="2.47 9.01" stroke-dashoffset="-0.20"/>
</g>
<g clip-path="url(#clipp4)" fill="#0b0b0b" stroke="none">
<circle cx="687.50" cy="772.30" r="3.86"/>
<rect x="679.64" y="825.34" width="7.33" height="7.33"/>
<path d="M758.40 823.35L763.35 831.57H753.45Z"/>
<rect x="757.54" y="864.34" width="7.33" height="7.33"/>
<path d="M806.80 862.45L811.75 870.67H801.85Z"/>
<rect x="804.94" y="903.94" width="7.33" height="7.33"/>
<path d="M842.80 903.84L846.36 907.40L842.80 910.96L839.24 907.40Z"/>
<path d="M842.80 1098.14L846.36 1101.70L842.80 1105.26L839.24 1101.70Z"/>
</g>
<path d="M556.00 641.90V1103.10" stroke="#383838" stroke-width="1.5"/>
<path d="M555.30 1102.20H934.30" stroke="#222" stroke-width="1.9"/>
<rect x="556.00" y="616.20" width="377.80" height="25.70" fill="#f2f2f2"/>
<path d="M556.00 641.90V616.20H933.80V641.90" fill="none" stroke="#363636" stroke-width="1.6" stroke-linejoin="round"/>
<path d="M555.30 641.90H934.40" stroke="#222" stroke-width="2"/>
<text x="752.00" y="633.00" font-size="11.85" text-anchor="middle" fill="#222">Exponential model</text>
<path d="M551.80 663.51H556.00M551.80 711.85H556.00M551.80 760.20H556.00M551.80 920.80H556.00M551.80 1081.40H556.00M573.15 1102.20v3.7M676.65 1102.20v3.7M780.15 1102.20v3.7M840.69 1102.20v3.7M883.65 1102.20v3.7M916.97 1102.20v3.7" stroke="#4a4a4a" stroke-width="1.15" fill="none"/>
<text x="541.25" y="669.21" font-size="11.85" text-anchor="end" fill="#222" word-spacing="0.6" letter-spacing="0.2">4 000</text>
<text x="541.25" y="716.35" font-size="11.85" text-anchor="end" fill="#222" word-spacing="0.6" letter-spacing="0.2">2 000</text>
<text x="541.25" y="765.60" font-size="11.85" text-anchor="end" fill="#222" word-spacing="0.6" letter-spacing="0.2">1 000</text>
<text x="541.25" y="925.00" font-size="11.85" text-anchor="end" fill="#222" word-spacing="0.6" letter-spacing="0.2">100</text>
<text x="541.25" y="1085.80" font-size="11.85" text-anchor="end" fill="#222" word-spacing="0.6" letter-spacing="0.2">10</text>
<text x="573.75" y="1124.90" font-size="11.85" text-anchor="middle" fill="#222" letter-spacing="0.1">10</text>
<text x="677.15" y="1124.90" font-size="11.85" text-anchor="middle" fill="#222" letter-spacing="0.1">20</text>
<text x="780.05" y="1124.90" font-size="11.85" text-anchor="middle" fill="#222" letter-spacing="0.1">40</text>
<text x="842.05" y="1124.90" font-size="11.85" text-anchor="middle" fill="#222" letter-spacing="0.1">60</text>
<text x="884.85" y="1124.90" font-size="11.85" text-anchor="middle" fill="#222" letter-spacing="0.1">80</text>
<text x="918.45" y="1124.90" font-size="11.85" text-anchor="middle" fill="#222" letter-spacing="0.1">100</text>
<text x="751.60" y="1144.30" font-size="13.46" font-weight="bold" class="b" text-anchor="middle" fill="#111"><tspan font-style="italic">Dq</tspan> (cm)</text>
<text transform="translate(502.70,869.45) rotate(-90)" font-size="13.46" font-weight="bold" class="b" text-anchor="middle" fill="#111"><tspan font-style="italic">N</tspan> (Trees ha<tspan font-size="8.35" dy="-4.55">-1</tspan><tspan dy="4.55">)</tspan></text>
</g>
<path d="M1005.30 192.00H1041.80" stroke="#0b0b0b" stroke-width="2.70" stroke-dasharray="20.65 8.85"/>
<text x="1056.00" y="196.50" font-size="12.20" fill="#222" letter-spacing="0.18">177</text>
<path d="M1005.30 215.70H1041.80" stroke="#0b0b0b" stroke-width="2.70" stroke-dasharray="11.80 11.80"/>
<text x="1056.00" y="220.20" font-size="12.20" fill="#222" letter-spacing="0.18">353</text>
<path d="M1005.30 239.00H1041.80" stroke="#0b0b0b" stroke-width="2.70" stroke-dasharray="5.90 5.90 17.70 5.90"/>
<text x="1056.00" y="243.50" font-size="12.20" fill="#222" letter-spacing="0.18">618</text>
<path d="M1005.30 262.70H1041.80" stroke="#0b0b0b" stroke-width="2.70"/>
<text x="1056.00" y="267.20" font-size="12.20" fill="#222" letter-spacing="0.18">883</text>
<path d="M1005.30 286.00H1041.80" stroke="#0b0b0b" stroke-width="2.70" stroke-dasharray="2.95 8.85"/>
<text x="1056.00" y="290.50" font-size="12.20" fill="#222" letter-spacing="0.18">Aftereffect</text>
<g fill="#0b0b0b">
<circle cx="1023.55" cy="331.40" r="4.41"/>
<rect x="1019.37" y="350.82" width="8.36" height="8.36"/>
<path d="M1023.55 372.05L1029.20 381.43H1017.90Z"/>
<path d="M1023.55 397.73L1027.62 401.80L1023.55 405.87L1019.48 401.80Z"/>
</g>
<text x="1056.00" y="335.90" font-size="12.20" fill="#222" letter-spacing="0.18">Start</text>
<text x="1056.00" y="359.70" font-size="12.20" fill="#222" letter-spacing="0.18">Thinning</text>
<text x="1056.00" y="383.20" font-size="12.20" fill="#222" letter-spacing="0.18">Growth</text>
<text x="1056.00" y="406.90" font-size="12.20" fill="#222" letter-spacing="0.18">Harvest</text>
<path d="M996.30 769.20H1033.00" stroke="#0b0b0b" stroke-width="2.67" stroke-dasharray="20.44 8.76"/>
<text x="1047.00" y="773.70" font-size="12.20" fill="#222" letter-spacing="0.18">160</text>
<path d="M996.30 792.40H1033.00" stroke="#0b0b0b" stroke-width="2.67" stroke-dasharray="11.68 11.68"/>
<text x="1047.00" y="796.90" font-size="12.20" fill="#222" letter-spacing="0.18">320</text>
<path d="M996.30 815.00H1033.00" stroke="#0b0b0b" stroke-width="2.67" stroke-dasharray="5.84 5.84 17.52 5.84"/>
<text x="1047.00" y="819.50" font-size="12.20" fill="#222" letter-spacing="0.18">560</text>
<path d="M996.30 838.20H1033.00" stroke="#0b0b0b" stroke-width="2.67"/>
<text x="1047.00" y="842.70" font-size="12.20" fill="#222" letter-spacing="0.18">800</text>
<path d="M996.30 861.70H1033.00" stroke="#0b0b0b" stroke-width="2.67" stroke-dasharray="2.92 8.76"/>
<text x="1047.00" y="866.20" font-size="12.20" fill="#222" letter-spacing="0.18">Aftereffect</text>
<g fill="#0b0b0b">
<circle cx="1014.65" cy="907.00" r="4.36"/>
<rect x="1010.51" y="925.86" width="8.28" height="8.28"/>
<path d="M1014.65 946.31L1020.24 955.59H1009.06Z"/>
<path d="M1014.65 971.97L1018.68 976.00L1014.65 980.03L1010.62 976.00Z"/>
</g>
<text x="1047.00" y="911.50" font-size="12.20" fill="#222" letter-spacing="0.18">Start</text>
<text x="1047.00" y="934.50" font-size="12.20" fill="#222" letter-spacing="0.18">Thinning</text>
<text x="1047.00" y="956.40" font-size="12.20" fill="#222" letter-spacing="0.18">Growth</text>
<text x="1047.00" y="980.50" font-size="12.20" fill="#222" letter-spacing="0.18">Harvest</text>
</svg>
</body></html>
